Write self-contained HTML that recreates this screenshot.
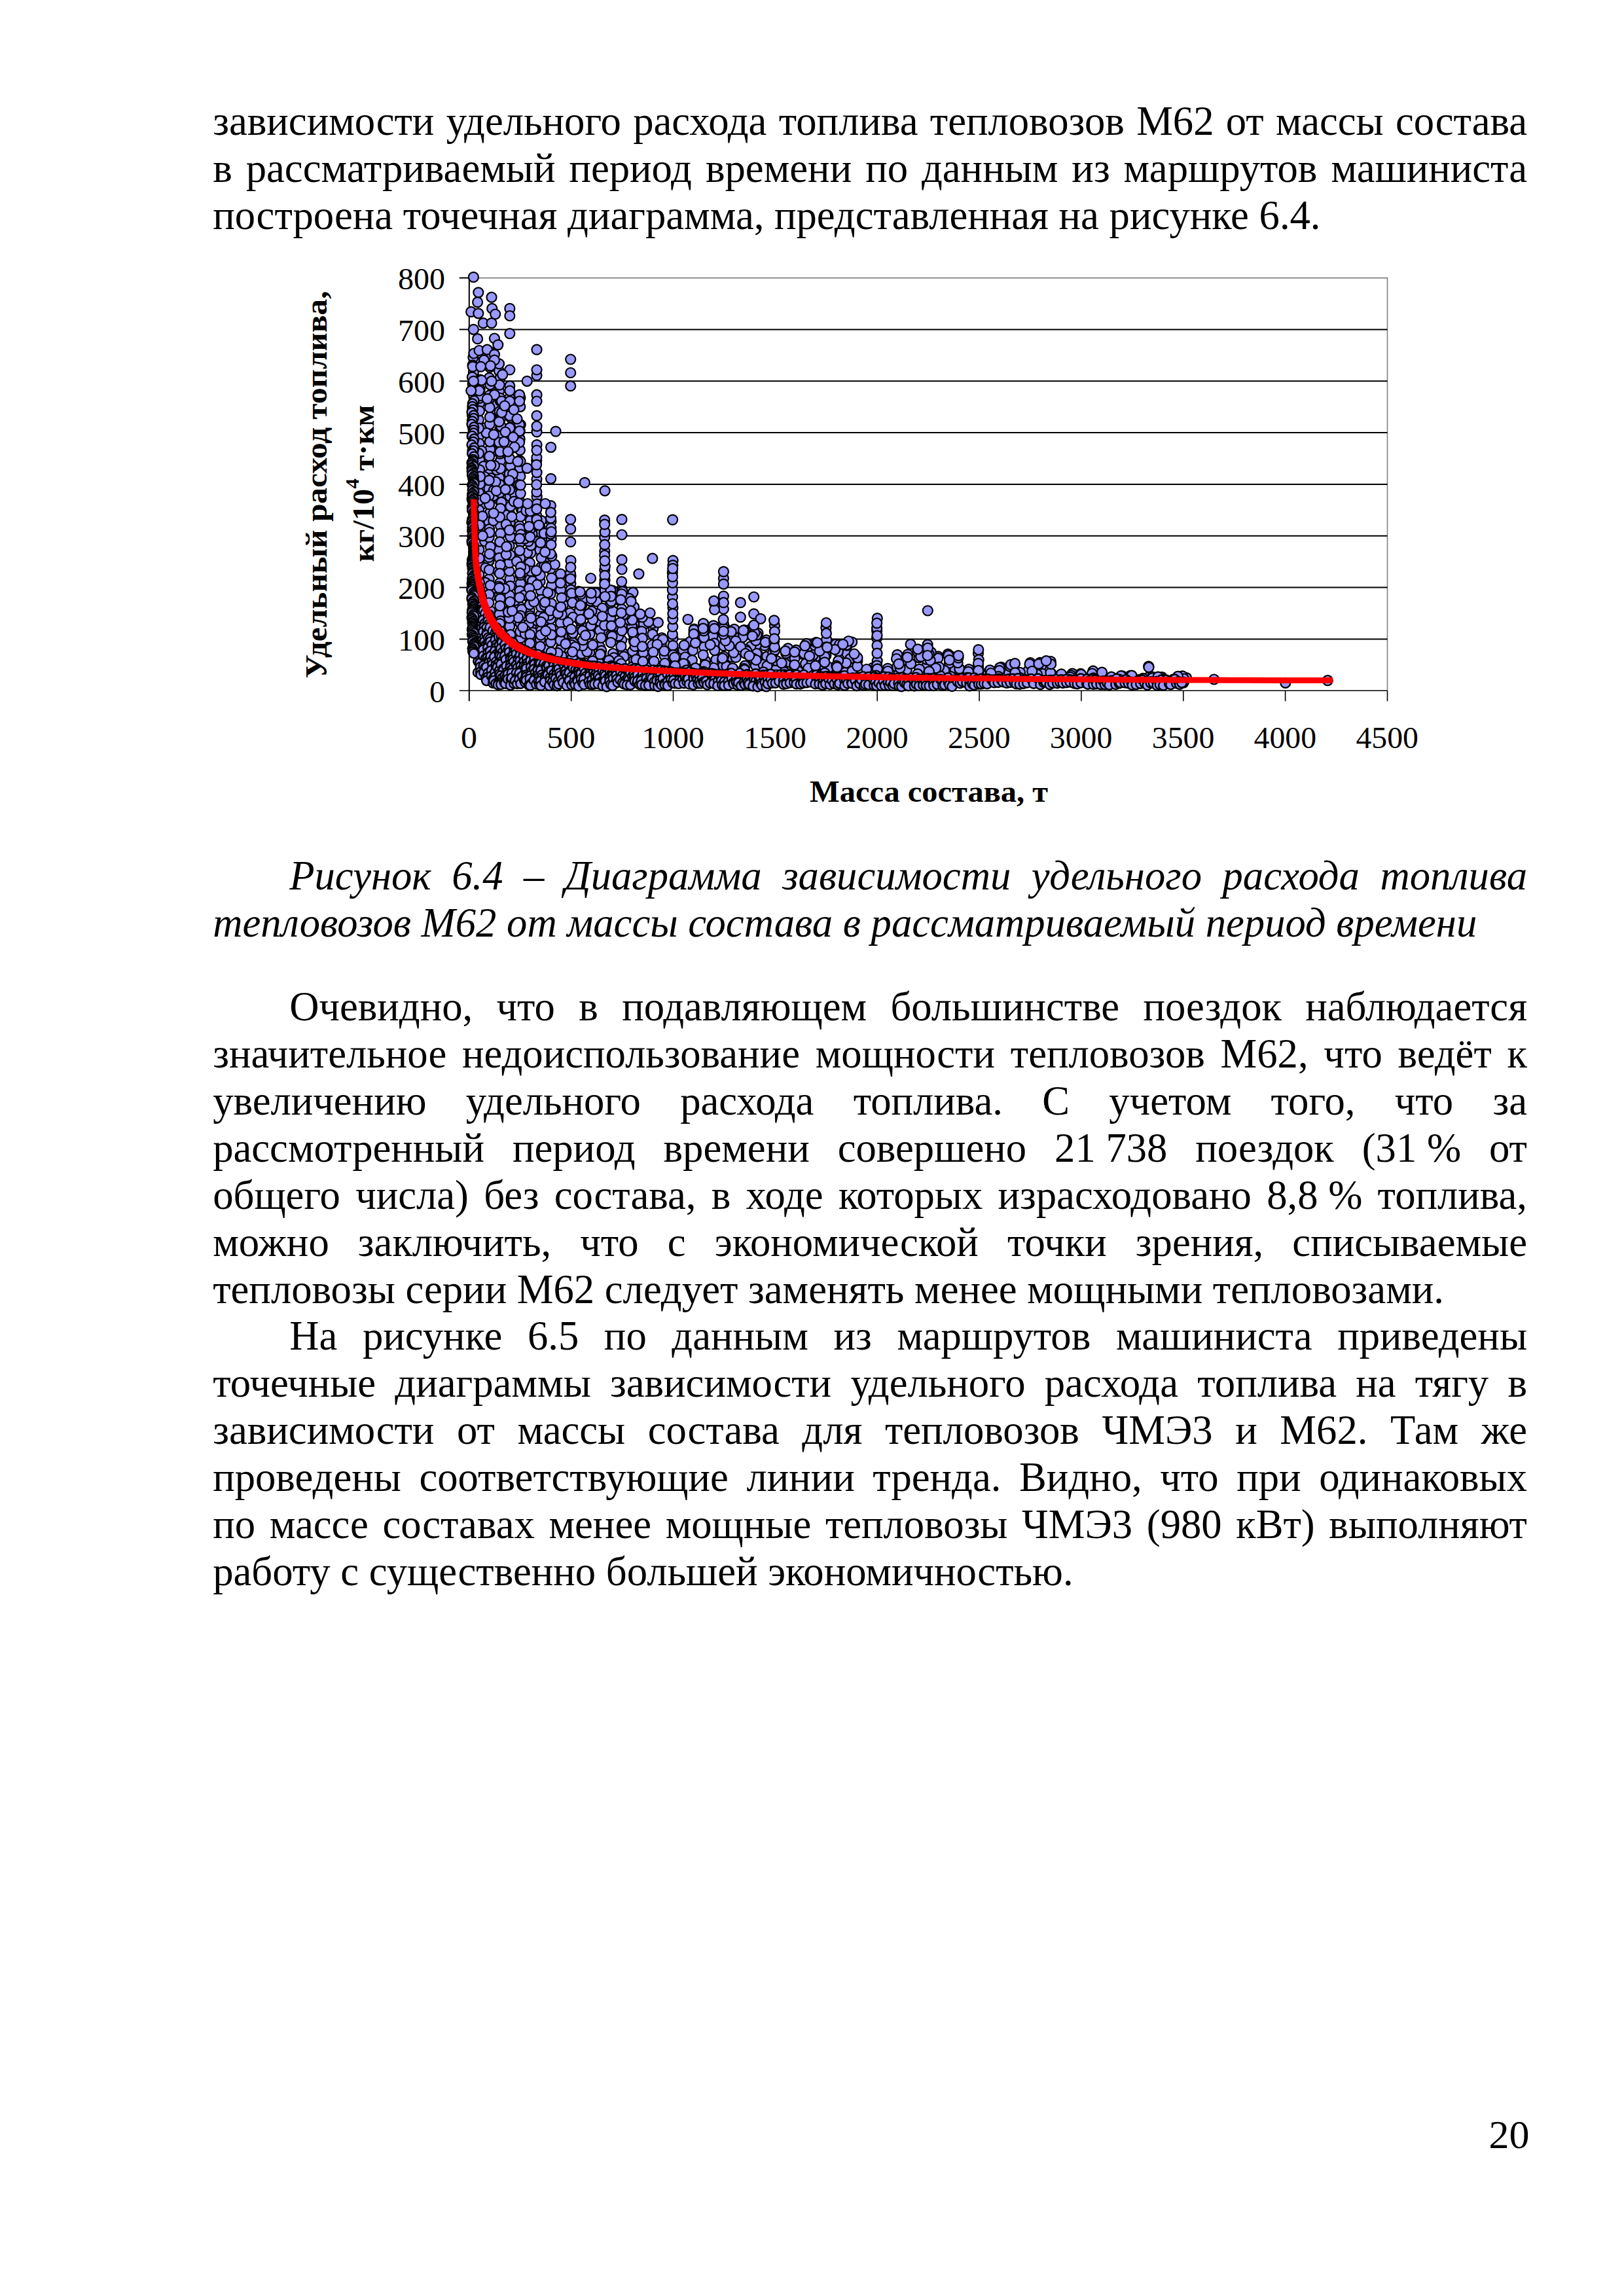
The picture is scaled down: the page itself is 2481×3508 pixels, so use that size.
<!DOCTYPE html>
<html lang="ru"><head><meta charset="utf-8"><title>Страница 20</title>
<style>
html,body{margin:0;padding:0;background:#fff}
#page{position:relative;width:2481px;height:3508px;background:#fff;overflow:hidden;color:#000;
 font-family:"Liberation Serif",serif;font-size:62.65px;line-height:72.0px}
.ln{position:absolute;white-space:pre}
.it{font-style:italic}
.nb{word-spacing:0}
#pn{position:absolute;font-size:62px;line-height:68px;white-space:pre}
</style></head><body><div id="page">
<svg width="2481" height="1300" viewBox="0 0 2481 1300" style="position:absolute;left:0;top:0">
<g fill="none">
<path d="M716.8 424.6H2119.5V1055.3" stroke="#808080" stroke-width="1.6"/>
<path d="M716.8 976.5H2119.5" stroke="#000" stroke-width="2"/>
<path d="M716.8 897.6H2119.5" stroke="#000" stroke-width="2"/>
<path d="M716.8 818.8H2119.5" stroke="#000" stroke-width="2"/>
<path d="M716.8 740.0H2119.5" stroke="#000" stroke-width="2"/>
<path d="M716.8 661.1H2119.5" stroke="#000" stroke-width="2"/>
<path d="M716.8 582.3H2119.5" stroke="#000" stroke-width="2"/>
<path d="M716.8 503.4H2119.5" stroke="#000" stroke-width="2"/>
<path d="M716.8 423.6V1071.3" stroke="#000" stroke-width="2"/>
<path d="M701.8 1055.3H2119.5" stroke="#000" stroke-width="1.6"/>
<path d="M701.8 976.5H716.8" stroke="#000" stroke-width="2"/>
<path d="M701.8 897.6H716.8" stroke="#000" stroke-width="2"/>
<path d="M701.8 818.8H716.8" stroke="#000" stroke-width="2"/>
<path d="M701.8 740.0H716.8" stroke="#000" stroke-width="2"/>
<path d="M701.8 661.1H716.8" stroke="#000" stroke-width="2"/>
<path d="M701.8 582.3H716.8" stroke="#000" stroke-width="2"/>
<path d="M701.8 503.4H716.8" stroke="#000" stroke-width="2"/>
<path d="M701.8 424.6H716.8" stroke="#000" stroke-width="2"/>
<path d="M872.7 1055.3V1071.3" stroke="#000" stroke-width="1.6"/>
<path d="M1028.5 1055.3V1071.3" stroke="#000" stroke-width="1.6"/>
<path d="M1184.4 1055.3V1071.3" stroke="#000" stroke-width="1.6"/>
<path d="M1340.2 1055.3V1071.3" stroke="#000" stroke-width="1.6"/>
<path d="M1496.1 1055.3V1071.3" stroke="#000" stroke-width="1.6"/>
<path d="M1651.9 1055.3V1071.3" stroke="#000" stroke-width="1.6"/>
<path d="M1807.8 1055.3V1071.3" stroke="#000" stroke-width="1.6"/>
<path d="M1963.6 1055.3V1071.3" stroke="#000" stroke-width="1.6"/>
<path d="M2119.5 1055.3V1071.3" stroke="#000" stroke-width="1.6"/>
</g>
<g fill="#9999ff" stroke="#000" stroke-width="2.2">
<circle cx="968.2" cy="1008.8" r="7.5"/><circle cx="1650.9" cy="1036.6" r="7.5"/><circle cx="748.7" cy="686.5" r="7.5"/><circle cx="918.6" cy="1015.3" r="7.5"/><circle cx="1166.6" cy="1006.4" r="7.5"/><circle cx="871.9" cy="891.5" r="7.5"/><circle cx="979.8" cy="1023.0" r="7.5"/><circle cx="1105.4" cy="930.5" r="7.5"/><circle cx="1199.9" cy="1012.6" r="7.5"/><circle cx="731.9" cy="551.3" r="7.5"/><circle cx="1293.9" cy="998.8" r="7.5"/><circle cx="1117.9" cy="1003.9" r="7.5"/><circle cx="824.7" cy="840.5" r="7.5"/><circle cx="969.1" cy="954.2" r="7.5"/><circle cx="748.9" cy="608.8" r="7.5"/><circle cx="1682.9" cy="1032.4" r="7.5"/><circle cx="1168.2" cy="1023.2" r="7.5"/><circle cx="950.0" cy="870.0" r="7.5"/><circle cx="1812.6" cy="1035.7" r="7.5"/><circle cx="723.4" cy="746.0" r="7.5"/><circle cx="833.6" cy="952.3" r="7.5"/><circle cx="783.5" cy="947.1" r="7.5"/><circle cx="828.5" cy="911.8" r="7.5"/><circle cx="871.7" cy="828.0" r="7.5"/><circle cx="1121.7" cy="1024.6" r="7.5"/><circle cx="862.1" cy="1009.9" r="7.5"/><circle cx="1739.4" cy="1038.6" r="7.5"/><circle cx="1638.2" cy="1029.2" r="7.5"/><circle cx="723.9" cy="701.3" r="7.5"/><circle cx="1465.9" cy="1032.2" r="7.5"/><circle cx="1541.5" cy="1027.7" r="7.5"/><circle cx="1762.8" cy="1037.0" r="7.5"/><circle cx="732.7" cy="615.7" r="7.5"/><circle cx="997.9" cy="960.3" r="7.5"/><circle cx="1452.0" cy="1022.8" r="7.5"/><circle cx="1173.3" cy="1037.7" r="7.5"/><circle cx="952.0" cy="998.2" r="7.5"/><circle cx="1168.0" cy="986.4" r="7.5"/><circle cx="762.6" cy="597.8" r="7.5"/><circle cx="1138.0" cy="1017.2" r="7.5"/><circle cx="1206.5" cy="1011.9" r="7.5"/><circle cx="1028.0" cy="975.6" r="7.5"/><circle cx="1652.1" cy="1040.0" r="7.5"/><circle cx="1636.1" cy="1031.9" r="7.5"/><circle cx="1414.0" cy="1023.4" r="7.5"/><circle cx="1089.9" cy="963.6" r="7.5"/><circle cx="857.8" cy="988.9" r="7.5"/><circle cx="746.9" cy="720.8" r="7.5"/><circle cx="763.4" cy="764.9" r="7.5"/><circle cx="749.1" cy="933.3" r="7.5"/><circle cx="1060.2" cy="965.2" r="7.5"/><circle cx="780.0" cy="686.2" r="7.5"/><circle cx="737.4" cy="769.6" r="7.5"/><circle cx="1263.9" cy="989.4" r="7.5"/><circle cx="901.0" cy="991.7" r="7.5"/><circle cx="840.7" cy="858.2" r="7.5"/><circle cx="1249.0" cy="1013.6" r="7.5"/><circle cx="1309.9" cy="1009.4" r="7.5"/><circle cx="1100.1" cy="976.4" r="7.5"/><circle cx="919.6" cy="905.0" r="7.5"/><circle cx="1106.1" cy="961.6" r="7.5"/><circle cx="1448.2" cy="999.4" r="7.5"/><circle cx="819.7" cy="704.2" r="7.5"/><circle cx="793.6" cy="803.5" r="7.5"/><circle cx="923.8" cy="842.3" r="7.5"/><circle cx="779.4" cy="653.0" r="7.5"/><circle cx="794.4" cy="808.0" r="7.5"/><circle cx="872.1" cy="1018.1" r="7.5"/><circle cx="964.8" cy="908.8" r="7.5"/><circle cx="763.7" cy="890.6" r="7.5"/><circle cx="1108.0" cy="1023.0" r="7.5"/><circle cx="841.0" cy="869.4" r="7.5"/><circle cx="1449.2" cy="1036.7" r="7.5"/><circle cx="1217.1" cy="1030.3" r="7.5"/><circle cx="967.0" cy="905.2" r="7.5"/><circle cx="763.0" cy="938.5" r="7.5"/><circle cx="1519.7" cy="1034.4" r="7.5"/><circle cx="940.8" cy="956.7" r="7.5"/><circle cx="865.4" cy="968.0" r="7.5"/><circle cx="751.5" cy="630.1" r="7.5"/><circle cx="871.7" cy="549.0" r="7.5"/><circle cx="841.6" cy="731.3" r="7.5"/><circle cx="793.8" cy="926.5" r="7.5"/><circle cx="809.2" cy="932.4" r="7.5"/><circle cx="780.1" cy="711.8" r="7.5"/><circle cx="747.6" cy="604.1" r="7.5"/><circle cx="1093.8" cy="1007.8" r="7.5"/><circle cx="834.5" cy="818.5" r="7.5"/><circle cx="1452.0" cy="1002.0" r="7.5"/><circle cx="738.8" cy="654.2" r="7.5"/><circle cx="733.5" cy="539.8" r="7.5"/><circle cx="1008.3" cy="1025.2" r="7.5"/><circle cx="1795.2" cy="1039.1" r="7.5"/><circle cx="811.4" cy="957.2" r="7.5"/><circle cx="1027.5" cy="993.7" r="7.5"/><circle cx="887.9" cy="984.5" r="7.5"/><circle cx="809.4" cy="860.0" r="7.5"/><circle cx="747.0" cy="857.3" r="7.5"/><circle cx="819.9" cy="699.1" r="7.5"/><circle cx="936.4" cy="998.5" r="7.5"/><circle cx="1027.3" cy="1005.3" r="7.5"/><circle cx="764.9" cy="838.7" r="7.5"/><circle cx="767.9" cy="851.0" r="7.5"/><circle cx="949.7" cy="930.4" r="7.5"/><circle cx="762.4" cy="840.3" r="7.5"/><circle cx="923.7" cy="848.5" r="7.5"/><circle cx="1106.5" cy="1029.4" r="7.5"/><circle cx="841.5" cy="899.3" r="7.5"/><circle cx="1155.4" cy="985.7" r="7.5"/><circle cx="775.0" cy="732.8" r="7.5"/><circle cx="879.9" cy="1019.5" r="7.5"/><circle cx="748.2" cy="561.2" r="7.5"/><circle cx="1270.6" cy="983.9" r="7.5"/><circle cx="1062.8" cy="976.1" r="7.5"/><circle cx="1495.4" cy="1041.8" r="7.5"/><circle cx="926.0" cy="933.5" r="7.5"/><circle cx="847.6" cy="862.5" r="7.5"/><circle cx="1183.4" cy="955.7" r="7.5"/><circle cx="1092.2" cy="986.7" r="7.5"/><circle cx="747.4" cy="577.3" r="7.5"/><circle cx="1588.8" cy="1012.3" r="7.5"/><circle cx="749.9" cy="730.6" r="7.5"/><circle cx="921.5" cy="911.3" r="7.5"/><circle cx="826.4" cy="1001.9" r="7.5"/><circle cx="1203.8" cy="990.6" r="7.5"/><circle cx="856.5" cy="901.3" r="7.5"/><circle cx="1496.7" cy="1036.2" r="7.5"/><circle cx="794.9" cy="727.6" r="7.5"/><circle cx="731.3" cy="813.8" r="7.5"/><circle cx="1417.1" cy="984.8" r="7.5"/><circle cx="826.8" cy="866.2" r="7.5"/><circle cx="854.9" cy="972.2" r="7.5"/><circle cx="810.1" cy="895.5" r="7.5"/><circle cx="778.2" cy="724.1" r="7.5"/><circle cx="840.7" cy="959.5" r="7.5"/><circle cx="870.2" cy="914.6" r="7.5"/><circle cx="763.9" cy="655.9" r="7.5"/><circle cx="871.5" cy="912.5" r="7.5"/><circle cx="1244.4" cy="997.4" r="7.5"/><circle cx="1619.2" cy="1031.9" r="7.5"/><circle cx="1105.4" cy="910.8" r="7.5"/><circle cx="898.4" cy="938.6" r="7.5"/><circle cx="1127.4" cy="988.1" r="7.5"/><circle cx="937.8" cy="1004.8" r="7.5"/><circle cx="1209.8" cy="1003.6" r="7.5"/><circle cx="1262.6" cy="982.0" r="7.5"/><circle cx="1261.9" cy="1001.6" r="7.5"/><circle cx="762.9" cy="729.8" r="7.5"/><circle cx="1370.8" cy="1000.3" r="7.5"/><circle cx="828.8" cy="994.1" r="7.5"/><circle cx="732.7" cy="702.8" r="7.5"/><circle cx="890.9" cy="961.8" r="7.5"/><circle cx="1590.7" cy="1017.5" r="7.5"/><circle cx="731.4" cy="666.4" r="7.5"/><circle cx="1074.0" cy="978.2" r="7.5"/><circle cx="809.8" cy="885.0" r="7.5"/><circle cx="836.1" cy="850.4" r="7.5"/><circle cx="824.8" cy="804.3" r="7.5"/><circle cx="850.8" cy="1008.7" r="7.5"/><circle cx="1230.6" cy="1013.9" r="7.5"/><circle cx="1182.6" cy="995.2" r="7.5"/><circle cx="888.4" cy="998.7" r="7.5"/><circle cx="826.4" cy="813.7" r="7.5"/><circle cx="1225.6" cy="999.1" r="7.5"/><circle cx="723.4" cy="569.0" r="7.5"/><circle cx="1340.2" cy="1009.8" r="7.5"/><circle cx="1183.1" cy="994.2" r="7.5"/><circle cx="1011.0" cy="974.5" r="7.5"/><circle cx="733.6" cy="580.0" r="7.5"/><circle cx="820.0" cy="573.6" r="7.5"/><circle cx="764.6" cy="703.9" r="7.5"/><circle cx="810.9" cy="844.6" r="7.5"/><circle cx="842.9" cy="849.6" r="7.5"/><circle cx="779.0" cy="884.9" r="7.5"/><circle cx="902.0" cy="918.3" r="7.5"/><circle cx="762.7" cy="615.7" r="7.5"/><circle cx="794.7" cy="847.7" r="7.5"/><circle cx="746.9" cy="661.0" r="7.5"/><circle cx="731.9" cy="839.9" r="7.5"/><circle cx="758.8" cy="718.0" r="7.5"/><circle cx="731.6" cy="779.3" r="7.5"/><circle cx="732.4" cy="608.4" r="7.5"/><circle cx="821.3" cy="827.3" r="7.5"/><circle cx="759.4" cy="618.5" r="7.5"/><circle cx="764.5" cy="803.3" r="7.5"/><circle cx="792.5" cy="994.2" r="7.5"/><circle cx="820.2" cy="758.9" r="7.5"/><circle cx="722.2" cy="652.4" r="7.5"/><circle cx="992.9" cy="1016.2" r="7.5"/><circle cx="1105.4" cy="883.7" r="7.5"/><circle cx="820.1" cy="679.6" r="7.5"/><circle cx="1162.7" cy="1033.2" r="7.5"/><circle cx="871.7" cy="589.7" r="7.5"/><circle cx="841.8" cy="959.9" r="7.5"/><circle cx="1333.3" cy="1020.4" r="7.5"/><circle cx="1017.6" cy="1006.4" r="7.5"/><circle cx="874.0" cy="970.2" r="7.5"/><circle cx="1027.5" cy="912.1" r="7.5"/><circle cx="1696.9" cy="1038.3" r="7.5"/><circle cx="1261.9" cy="959.2" r="7.5"/><circle cx="1232.3" cy="1035.2" r="7.5"/><circle cx="1459.0" cy="1022.8" r="7.5"/><circle cx="884.6" cy="919.2" r="7.5"/><circle cx="855.9" cy="992.8" r="7.5"/><circle cx="731.5" cy="752.6" r="7.5"/><circle cx="1452.7" cy="1033.7" r="7.5"/><circle cx="1265.4" cy="1022.7" r="7.5"/><circle cx="1294.3" cy="986.2" r="7.5"/><circle cx="1027.3" cy="901.3" r="7.5"/><circle cx="901.1" cy="969.0" r="7.5"/><circle cx="887.2" cy="939.4" r="7.5"/><circle cx="950.0" cy="817.0" r="7.5"/><circle cx="1075.6" cy="954.2" r="7.5"/><circle cx="1386.8" cy="999.9" r="7.5"/><circle cx="779.8" cy="711.7" r="7.5"/><circle cx="1146.7" cy="961.4" r="7.5"/><circle cx="1216.3" cy="993.2" r="7.5"/><circle cx="1147.0" cy="987.6" r="7.5"/><circle cx="778.3" cy="783.5" r="7.5"/><circle cx="826.0" cy="939.2" r="7.5"/><circle cx="785.7" cy="985.9" r="7.5"/><circle cx="1402.1" cy="992.8" r="7.5"/><circle cx="794.2" cy="670.7" r="7.5"/><circle cx="721.1" cy="666.4" r="7.5"/><circle cx="1495.0" cy="1030.4" r="7.5"/><circle cx="1466.4" cy="1024.2" r="7.5"/><circle cx="723.9" cy="735.8" r="7.5"/><circle cx="1775.1" cy="1034.6" r="7.5"/><circle cx="745.5" cy="737.6" r="7.5"/><circle cx="779.3" cy="798.3" r="7.5"/><circle cx="1574.0" cy="1012.5" r="7.5"/><circle cx="996.8" cy="952.4" r="7.5"/><circle cx="841.4" cy="772.6" r="7.5"/><circle cx="1280.4" cy="995.4" r="7.5"/><circle cx="1028.0" cy="928.5" r="7.5"/><circle cx="961.2" cy="914.3" r="7.5"/><circle cx="950.0" cy="899.9" r="7.5"/><circle cx="1010.2" cy="986.1" r="7.5"/><circle cx="1754.8" cy="1034.6" r="7.5"/><circle cx="1547.5" cy="1039.4" r="7.5"/><circle cx="746.7" cy="856.9" r="7.5"/><circle cx="820.0" cy="603.2" r="7.5"/><circle cx="885.3" cy="933.1" r="7.5"/><circle cx="1158.3" cy="1000.9" r="7.5"/><circle cx="996.9" cy="969.1" r="7.5"/><circle cx="831.2" cy="825.9" r="7.5"/><circle cx="837.4" cy="992.1" r="7.5"/><circle cx="1266.4" cy="1019.7" r="7.5"/><circle cx="791.5" cy="756.0" r="7.5"/><circle cx="1106.9" cy="958.4" r="7.5"/><circle cx="856.6" cy="1012.1" r="7.5"/><circle cx="983.5" cy="954.1" r="7.5"/><circle cx="908.4" cy="956.4" r="7.5"/><circle cx="872.0" cy="880.2" r="7.5"/><circle cx="1043.6" cy="993.3" r="7.5"/><circle cx="778.1" cy="872.5" r="7.5"/><circle cx="795.0" cy="952.3" r="7.5"/><circle cx="1077.7" cy="1009.6" r="7.5"/><circle cx="747.1" cy="797.2" r="7.5"/><circle cx="764.6" cy="661.0" r="7.5"/><circle cx="921.0" cy="961.4" r="7.5"/><circle cx="810.1" cy="920.3" r="7.5"/><circle cx="737.2" cy="900.1" r="7.5"/><circle cx="1105.3" cy="953.0" r="7.5"/><circle cx="1124.1" cy="1004.4" r="7.5"/><circle cx="765.6" cy="967.1" r="7.5"/><circle cx="841.6" cy="683.3" r="7.5"/><circle cx="1156.9" cy="1010.1" r="7.5"/><circle cx="906.5" cy="908.8" r="7.5"/><circle cx="773.1" cy="786.8" r="7.5"/><circle cx="747.2" cy="884.8" r="7.5"/><circle cx="808.2" cy="953.0" r="7.5"/><circle cx="1120.7" cy="997.1" r="7.5"/><circle cx="1261.7" cy="984.5" r="7.5"/><circle cx="1726.8" cy="1032.3" r="7.5"/><circle cx="733.1" cy="864.3" r="7.5"/><circle cx="1245.2" cy="1005.2" r="7.5"/><circle cx="965.7" cy="1019.1" r="7.5"/><circle cx="1570.9" cy="1024.5" r="7.5"/><circle cx="796.9" cy="931.1" r="7.5"/><circle cx="809.2" cy="784.4" r="7.5"/><circle cx="746.9" cy="746.6" r="7.5"/><circle cx="813.4" cy="887.9" r="7.5"/><circle cx="763.1" cy="740.1" r="7.5"/><circle cx="1090.0" cy="955.9" r="7.5"/><circle cx="1089.0" cy="971.6" r="7.5"/><circle cx="1416.2" cy="1017.2" r="7.5"/><circle cx="721.8" cy="716.2" r="7.5"/><circle cx="748.7" cy="944.4" r="7.5"/><circle cx="820.0" cy="613.0" r="7.5"/><circle cx="1134.7" cy="973.6" r="7.5"/><circle cx="1121.1" cy="971.7" r="7.5"/><circle cx="825.1" cy="888.4" r="7.5"/><circle cx="1650.3" cy="1042.8" r="7.5"/><circle cx="1060.3" cy="1024.8" r="7.5"/><circle cx="1301.7" cy="981.0" r="7.5"/><circle cx="1282.2" cy="1030.6" r="7.5"/><circle cx="1298.9" cy="1006.3" r="7.5"/><circle cx="888.7" cy="924.8" r="7.5"/><circle cx="1276.1" cy="985.7" r="7.5"/><circle cx="990.5" cy="1019.0" r="7.5"/><circle cx="813.0" cy="815.6" r="7.5"/><circle cx="819.9" cy="751.6" r="7.5"/><circle cx="1124.0" cy="979.3" r="7.5"/><circle cx="980.3" cy="964.6" r="7.5"/><circle cx="795.9" cy="777.6" r="7.5"/><circle cx="951.1" cy="954.4" r="7.5"/><circle cx="1198.5" cy="1026.9" r="7.5"/><circle cx="764.3" cy="630.9" r="7.5"/><circle cx="826.3" cy="902.3" r="7.5"/><circle cx="1054.8" cy="980.1" r="7.5"/><circle cx="754.0" cy="749.5" r="7.5"/><circle cx="1255.2" cy="1015.1" r="7.5"/><circle cx="1368.9" cy="1040.9" r="7.5"/><circle cx="1450.4" cy="1013.1" r="7.5"/><circle cx="763.6" cy="901.6" r="7.5"/><circle cx="905.3" cy="1019.8" r="7.5"/><circle cx="789.4" cy="741.1" r="7.5"/><circle cx="1296.1" cy="1036.3" r="7.5"/><circle cx="1415.4" cy="1007.4" r="7.5"/><circle cx="845.7" cy="932.5" r="7.5"/><circle cx="1529.5" cy="1019.4" r="7.5"/><circle cx="1404.7" cy="1022.4" r="7.5"/><circle cx="748.3" cy="648.1" r="7.5"/><circle cx="794.4" cy="687.7" r="7.5"/><circle cx="1080.9" cy="1022.0" r="7.5"/><circle cx="1527.4" cy="1020.2" r="7.5"/><circle cx="1455.7" cy="1005.6" r="7.5"/><circle cx="949.7" cy="978.0" r="7.5"/><circle cx="1494.5" cy="998.3" r="7.5"/><circle cx="764.4" cy="716.0" r="7.5"/><circle cx="764.3" cy="613.0" r="7.5"/><circle cx="911.6" cy="919.1" r="7.5"/><circle cx="872.0" cy="856.4" r="7.5"/><circle cx="764.2" cy="914.8" r="7.5"/><circle cx="812.7" cy="998.9" r="7.5"/><circle cx="923.7" cy="871.1" r="7.5"/><circle cx="1526.8" cy="1024.6" r="7.5"/><circle cx="1291.4" cy="1027.3" r="7.5"/><circle cx="825.4" cy="977.1" r="7.5"/><circle cx="1027.4" cy="969.2" r="7.5"/><circle cx="831.3" cy="864.7" r="7.5"/><circle cx="769.0" cy="863.0" r="7.5"/><circle cx="763.7" cy="666.1" r="7.5"/><circle cx="1433.1" cy="1002.8" r="7.5"/><circle cx="794.9" cy="607.7" r="7.5"/><circle cx="1241.3" cy="986.1" r="7.5"/><circle cx="1714.6" cy="1032.9" r="7.5"/><circle cx="1387.5" cy="1011.0" r="7.5"/><circle cx="856.7" cy="951.9" r="7.5"/><circle cx="1119.7" cy="1030.6" r="7.5"/><circle cx="748.6" cy="674.2" r="7.5"/><circle cx="922.3" cy="966.9" r="7.5"/><circle cx="820.0" cy="635.2" r="7.5"/><circle cx="932.9" cy="943.2" r="7.5"/><circle cx="1103.4" cy="1009.7" r="7.5"/><circle cx="1091.2" cy="982.8" r="7.5"/><circle cx="1669.9" cy="1025.2" r="7.5"/><circle cx="1465.7" cy="1021.7" r="7.5"/><circle cx="890.8" cy="914.6" r="7.5"/><circle cx="968.2" cy="979.3" r="7.5"/><circle cx="875.1" cy="982.0" r="7.5"/><circle cx="1105.4" cy="920.7" r="7.5"/><circle cx="749.2" cy="911.3" r="7.5"/><circle cx="1027.3" cy="874.8" r="7.5"/><circle cx="813.8" cy="966.4" r="7.5"/><circle cx="966.2" cy="957.9" r="7.5"/><circle cx="795.3" cy="828.3" r="7.5"/><circle cx="887.4" cy="1014.8" r="7.5"/><circle cx="1369.5" cy="1006.5" r="7.5"/><circle cx="860.5" cy="924.1" r="7.5"/><circle cx="820.0" cy="534.2" r="7.5"/><circle cx="900.9" cy="996.7" r="7.5"/><circle cx="748.2" cy="674.8" r="7.5"/><circle cx="1301.8" cy="1025.6" r="7.5"/><circle cx="1104.7" cy="1017.0" r="7.5"/><circle cx="1462.3" cy="1008.8" r="7.5"/><circle cx="754.2" cy="757.5" r="7.5"/><circle cx="1435.7" cy="1033.0" r="7.5"/><circle cx="721.4" cy="642.8" r="7.5"/><circle cx="1015.1" cy="1001.8" r="7.5"/><circle cx="841.2" cy="945.5" r="7.5"/><circle cx="1075.6" cy="988.2" r="7.5"/><circle cx="756.2" cy="898.2" r="7.5"/><circle cx="1230.5" cy="985.9" r="7.5"/><circle cx="763.9" cy="693.1" r="7.5"/><circle cx="762.4" cy="566.8" r="7.5"/><circle cx="1028.0" cy="986.3" r="7.5"/><circle cx="1152.0" cy="1033.2" r="7.5"/><circle cx="914.1" cy="1011.2" r="7.5"/><circle cx="1512.3" cy="1023.9" r="7.5"/><circle cx="842.3" cy="922.0" r="7.5"/><circle cx="924.0" cy="886.8" r="7.5"/><circle cx="1180.1" cy="1012.5" r="7.5"/><circle cx="779.3" cy="895.4" r="7.5"/><circle cx="1262.3" cy="951.5" r="7.5"/><circle cx="968.3" cy="970.7" r="7.5"/><circle cx="741.9" cy="867.6" r="7.5"/><circle cx="805.5" cy="844.5" r="7.5"/><circle cx="764.6" cy="815.1" r="7.5"/><circle cx="1240.2" cy="1011.5" r="7.5"/><circle cx="723.7" cy="604.4" r="7.5"/><circle cx="762.4" cy="677.7" r="7.5"/><circle cx="888.5" cy="955.8" r="7.5"/><circle cx="794.8" cy="621.3" r="7.5"/><circle cx="778.1" cy="859.9" r="7.5"/><circle cx="1030.9" cy="1029.3" r="7.5"/><circle cx="856.4" cy="951.8" r="7.5"/><circle cx="1213.9" cy="1019.5" r="7.5"/><circle cx="786.7" cy="917.5" r="7.5"/><circle cx="1760.3" cy="1034.0" r="7.5"/><circle cx="721.1" cy="762.9" r="7.5"/><circle cx="1792.6" cy="1037.9" r="7.5"/><circle cx="1385.2" cy="1023.6" r="7.5"/><circle cx="1442.7" cy="1024.4" r="7.5"/><circle cx="1391.5" cy="1014.2" r="7.5"/><circle cx="787.4" cy="822.3" r="7.5"/><circle cx="1233.9" cy="995.8" r="7.5"/><circle cx="1308.9" cy="1003.9" r="7.5"/><circle cx="1403.9" cy="1004.8" r="7.5"/><circle cx="794.3" cy="714.5" r="7.5"/><circle cx="763.8" cy="608.1" r="7.5"/><circle cx="811.1" cy="833.3" r="7.5"/><circle cx="820.5" cy="948.1" r="7.5"/><circle cx="779.0" cy="758.3" r="7.5"/><circle cx="920.2" cy="929.2" r="7.5"/><circle cx="731.3" cy="641.3" r="7.5"/><circle cx="748.9" cy="782.7" r="7.5"/><circle cx="722.9" cy="546.1" r="7.5"/><circle cx="810.3" cy="795.0" r="7.5"/><circle cx="748.3" cy="708.6" r="7.5"/><circle cx="1578.5" cy="1032.2" r="7.5"/><circle cx="883.8" cy="903.7" r="7.5"/><circle cx="1028.1" cy="856.4" r="7.5"/><circle cx="1230.3" cy="1026.6" r="7.5"/><circle cx="944.8" cy="971.6" r="7.5"/><circle cx="1339.6" cy="964.0" r="7.5"/><circle cx="1309.8" cy="1017.9" r="7.5"/><circle cx="871.4" cy="875.7" r="7.5"/><circle cx="826.8" cy="795.3" r="7.5"/><circle cx="779.9" cy="773.5" r="7.5"/><circle cx="1386.3" cy="1004.2" r="7.5"/><circle cx="763.1" cy="628.8" r="7.5"/><circle cx="1005.0" cy="977.9" r="7.5"/><circle cx="779.5" cy="848.0" r="7.5"/><circle cx="1418.7" cy="993.8" r="7.5"/><circle cx="794.5" cy="767.2" r="7.5"/><circle cx="1262.7" cy="977.4" r="7.5"/><circle cx="795.7" cy="816.6" r="7.5"/><circle cx="875.2" cy="967.3" r="7.5"/><circle cx="1090.3" cy="1020.5" r="7.5"/><circle cx="1185.5" cy="1023.1" r="7.5"/><circle cx="1276.9" cy="984.1" r="7.5"/><circle cx="916.5" cy="988.5" r="7.5"/><circle cx="1292.7" cy="1012.8" r="7.5"/><circle cx="839.1" cy="940.0" r="7.5"/><circle cx="793.6" cy="703.4" r="7.5"/><circle cx="1060.4" cy="961.0" r="7.5"/><circle cx="765.4" cy="651.3" r="7.5"/><circle cx="1760.3" cy="1036.0" r="7.5"/><circle cx="1573.0" cy="1014.5" r="7.5"/><circle cx="1495.5" cy="1024.4" r="7.5"/><circle cx="766.1" cy="767.5" r="7.5"/><circle cx="721.4" cy="576.2" r="7.5"/><circle cx="1027.6" cy="794.1" r="7.5"/><circle cx="1246.8" cy="1034.5" r="7.5"/><circle cx="798.0" cy="780.3" r="7.5"/><circle cx="1027.5" cy="890.4" r="7.5"/><circle cx="793.3" cy="899.6" r="7.5"/><circle cx="779.2" cy="666.0" r="7.5"/><circle cx="820.6" cy="893.5" r="7.5"/><circle cx="1158.0" cy="967.4" r="7.5"/><circle cx="1027.5" cy="922.5" r="7.5"/><circle cx="795.2" cy="891.2" r="7.5"/><circle cx="917.0" cy="950.3" r="7.5"/><circle cx="1262.2" cy="988.5" r="7.5"/><circle cx="1075.4" cy="974.0" r="7.5"/><circle cx="856.1" cy="978.4" r="7.5"/><circle cx="856.8" cy="877.6" r="7.5"/><circle cx="723.3" cy="677.3" r="7.5"/><circle cx="1154.7" cy="978.7" r="7.5"/><circle cx="965.1" cy="956.8" r="7.5"/><circle cx="1668.4" cy="1029.0" r="7.5"/><circle cx="795.4" cy="974.8" r="7.5"/><circle cx="826.4" cy="916.2" r="7.5"/><circle cx="1270.2" cy="1038.1" r="7.5"/><circle cx="1156.0" cy="998.5" r="7.5"/><circle cx="1139.1" cy="992.4" r="7.5"/><circle cx="964.0" cy="945.4" r="7.5"/><circle cx="1558.3" cy="1027.3" r="7.5"/><circle cx="779.1" cy="982.0" r="7.5"/><circle cx="747.6" cy="808.3" r="7.5"/><circle cx="762.8" cy="852.4" r="7.5"/><circle cx="757.1" cy="736.1" r="7.5"/><circle cx="1260.0" cy="1003.3" r="7.5"/><circle cx="1681.1" cy="1042.7" r="7.5"/><circle cx="862.2" cy="937.8" r="7.5"/><circle cx="1154.3" cy="1016.9" r="7.5"/><circle cx="840.2" cy="1013.2" r="7.5"/><circle cx="870.2" cy="941.9" r="7.5"/><circle cx="873.4" cy="985.4" r="7.5"/><circle cx="747.4" cy="870.6" r="7.5"/><circle cx="741.6" cy="890.2" r="7.5"/><circle cx="1183.4" cy="964.9" r="7.5"/><circle cx="825.3" cy="987.7" r="7.5"/><circle cx="909.8" cy="906.0" r="7.5"/><circle cx="763.7" cy="925.6" r="7.5"/><circle cx="778.5" cy="677.2" r="7.5"/><circle cx="809.8" cy="809.0" r="7.5"/><circle cx="820.0" cy="732.3" r="7.5"/><circle cx="1707.6" cy="1036.3" r="7.5"/><circle cx="1357.9" cy="1037.0" r="7.5"/><circle cx="1682.9" cy="1032.2" r="7.5"/><circle cx="740.4" cy="728.5" r="7.5"/><circle cx="794.7" cy="964.9" r="7.5"/><circle cx="1419.6" cy="1039.9" r="7.5"/><circle cx="747.9" cy="537.4" r="7.5"/><circle cx="731.8" cy="878.1" r="7.5"/><circle cx="794.7" cy="852.7" r="7.5"/><circle cx="1200.7" cy="998.2" r="7.5"/><circle cx="809.3" cy="923.7" r="7.5"/><circle cx="1214.1" cy="1005.9" r="7.5"/><circle cx="732.8" cy="826.7" r="7.5"/><circle cx="1073.2" cy="1020.8" r="7.5"/><circle cx="793.9" cy="841.3" r="7.5"/><circle cx="740.6" cy="827.0" r="7.5"/><circle cx="1495.2" cy="1008.0" r="7.5"/><circle cx="1058.5" cy="993.7" r="7.5"/><circle cx="826.5" cy="927.5" r="7.5"/><circle cx="841.9" cy="796.7" r="7.5"/><circle cx="1171.5" cy="1003.1" r="7.5"/><circle cx="753.7" cy="795.5" r="7.5"/><circle cx="1370.1" cy="1019.3" r="7.5"/><circle cx="1091.7" cy="993.6" r="7.5"/><circle cx="889.9" cy="963.7" r="7.5"/><circle cx="1651.0" cy="1029.3" r="7.5"/><circle cx="871.7" cy="793.6" r="7.5"/><circle cx="1557.5" cy="1035.2" r="7.5"/><circle cx="1105.6" cy="986.6" r="7.5"/><circle cx="761.9" cy="896.0" r="7.5"/><circle cx="749.1" cy="894.3" r="7.5"/><circle cx="764.7" cy="948.8" r="7.5"/><circle cx="820.0" cy="659.9" r="7.5"/><circle cx="896.8" cy="995.8" r="7.5"/><circle cx="732.3" cy="852.9" r="7.5"/><circle cx="755.3" cy="711.4" r="7.5"/><circle cx="1077.4" cy="1015.8" r="7.5"/><circle cx="1280.3" cy="1030.7" r="7.5"/><circle cx="935.9" cy="902.3" r="7.5"/><circle cx="794.9" cy="940.6" r="7.5"/><circle cx="1592.5" cy="1029.3" r="7.5"/><circle cx="807.4" cy="827.1" r="7.5"/><circle cx="1027.9" cy="863.6" r="7.5"/><circle cx="994.4" cy="1018.5" r="7.5"/><circle cx="871.3" cy="1001.1" r="7.5"/><circle cx="794.1" cy="902.9" r="7.5"/><circle cx="1433.0" cy="1005.6" r="7.5"/><circle cx="1525.5" cy="1033.6" r="7.5"/><circle cx="762.6" cy="676.0" r="7.5"/><circle cx="791.5" cy="943.7" r="7.5"/><circle cx="1506.5" cy="1037.9" r="7.5"/><circle cx="1422.3" cy="996.4" r="7.5"/><circle cx="1110.0" cy="1018.2" r="7.5"/><circle cx="1806.4" cy="1032.9" r="7.5"/><circle cx="930.4" cy="1008.9" r="7.5"/><circle cx="1339.6" cy="1016.9" r="7.5"/><circle cx="1185.9" cy="1031.0" r="7.5"/><circle cx="890.0" cy="986.7" r="7.5"/><circle cx="872.1" cy="901.1" r="7.5"/><circle cx="1728.8" cy="1038.2" r="7.5"/><circle cx="948.9" cy="987.4" r="7.5"/><circle cx="1606.3" cy="1029.3" r="7.5"/><circle cx="820.0" cy="651.2" r="7.5"/><circle cx="937.1" cy="934.6" r="7.5"/><circle cx="1327.0" cy="1024.3" r="7.5"/><circle cx="1228.4" cy="998.4" r="7.5"/><circle cx="1808.6" cy="1037.0" r="7.5"/><circle cx="801.1" cy="909.4" r="7.5"/><circle cx="1045.2" cy="985.8" r="7.5"/><circle cx="984.4" cy="1002.4" r="7.5"/><circle cx="1251.2" cy="1032.9" r="7.5"/><circle cx="856.4" cy="876.9" r="7.5"/><circle cx="902.7" cy="955.7" r="7.5"/><circle cx="794.7" cy="989.9" r="7.5"/><circle cx="795.1" cy="705.0" r="7.5"/><circle cx="778.7" cy="700.7" r="7.5"/><circle cx="1170.7" cy="977.9" r="7.5"/><circle cx="995.5" cy="993.1" r="7.5"/><circle cx="1105.7" cy="1003.0" r="7.5"/><circle cx="764.3" cy="640.5" r="7.5"/><circle cx="747.1" cy="821.1" r="7.5"/><circle cx="748.8" cy="587.8" r="7.5"/><circle cx="1653.3" cy="1034.2" r="7.5"/><circle cx="743.0" cy="661.3" r="7.5"/><circle cx="826.9" cy="963.2" r="7.5"/><circle cx="826.9" cy="852.2" r="7.5"/><circle cx="890.6" cy="977.9" r="7.5"/><circle cx="1014.7" cy="994.7" r="7.5"/><circle cx="1245.1" cy="1025.6" r="7.5"/><circle cx="1576.5" cy="1041.1" r="7.5"/><circle cx="923.7" cy="820.9" r="7.5"/><circle cx="731.9" cy="764.4" r="7.5"/><circle cx="791.0" cy="705.1" r="7.5"/><circle cx="950.0" cy="793.6" r="7.5"/><circle cx="1808.0" cy="1043.1" r="7.5"/><circle cx="810.8" cy="872.7" r="7.5"/><circle cx="871.8" cy="866.7" r="7.5"/><circle cx="1141.0" cy="995.1" r="7.5"/><circle cx="1542.8" cy="1018.2" r="7.5"/><circle cx="1012.6" cy="977.0" r="7.5"/><circle cx="1340.9" cy="1022.0" r="7.5"/><circle cx="808.2" cy="804.4" r="7.5"/><circle cx="764.0" cy="577.9" r="7.5"/><circle cx="749.2" cy="835.3" r="7.5"/><circle cx="1401.7" cy="995.5" r="7.5"/><circle cx="1046.8" cy="1004.0" r="7.5"/><circle cx="1356.2" cy="1021.3" r="7.5"/><circle cx="1776.8" cy="1037.5" r="7.5"/><circle cx="841.4" cy="791.8" r="7.5"/><circle cx="761.2" cy="873.4" r="7.5"/><circle cx="982.6" cy="997.3" r="7.5"/><circle cx="1338.2" cy="1034.1" r="7.5"/><circle cx="802.4" cy="962.5" r="7.5"/><circle cx="1067.1" cy="1033.3" r="7.5"/><circle cx="1234.9" cy="1021.0" r="7.5"/><circle cx="1584.5" cy="1030.3" r="7.5"/><circle cx="723.1" cy="695.3" r="7.5"/><circle cx="732.5" cy="627.9" r="7.5"/><circle cx="1027.8" cy="957.5" r="7.5"/><circle cx="1085.1" cy="985.2" r="7.5"/><circle cx="1030.9" cy="1006.3" r="7.5"/><circle cx="953.2" cy="1003.1" r="7.5"/><circle cx="1280.6" cy="1009.6" r="7.5"/><circle cx="732.2" cy="677.5" r="7.5"/><circle cx="949.9" cy="903.5" r="7.5"/><circle cx="966.5" cy="995.0" r="7.5"/><circle cx="1263.8" cy="1035.7" r="7.5"/><circle cx="1372.8" cy="1030.3" r="7.5"/><circle cx="950.1" cy="963.6" r="7.5"/><circle cx="801.6" cy="823.1" r="7.5"/><circle cx="1527.6" cy="1039.4" r="7.5"/><circle cx="1436.0" cy="1032.2" r="7.5"/><circle cx="820.0" cy="688.0" r="7.5"/><circle cx="1105.4" cy="960.1" r="7.5"/><circle cx="1339.6" cy="975.1" r="7.5"/><circle cx="918.8" cy="994.2" r="7.5"/><circle cx="1182.6" cy="947.8" r="7.5"/><circle cx="722.2" cy="586.9" r="7.5"/><circle cx="793.8" cy="912.9" r="7.5"/><circle cx="795.3" cy="789.3" r="7.5"/><circle cx="957.1" cy="1026.2" r="7.5"/><circle cx="794.9" cy="878.6" r="7.5"/><circle cx="778.7" cy="956.9" r="7.5"/><circle cx="916.4" cy="963.3" r="7.5"/><circle cx="794.3" cy="658.9" r="7.5"/><circle cx="832.0" cy="924.8" r="7.5"/><circle cx="1463.2" cy="1012.7" r="7.5"/><circle cx="819.9" cy="788.3" r="7.5"/><circle cx="858.1" cy="1002.6" r="7.5"/><circle cx="1121.7" cy="961.4" r="7.5"/><circle cx="923.6" cy="955.4" r="7.5"/><circle cx="789.5" cy="858.0" r="7.5"/><circle cx="1137.0" cy="962.6" r="7.5"/><circle cx="1621.4" cy="1029.9" r="7.5"/><circle cx="802.2" cy="968.1" r="7.5"/><circle cx="778.1" cy="944.4" r="7.5"/><circle cx="990.7" cy="950.2" r="7.5"/><circle cx="1074.9" cy="1026.2" r="7.5"/><circle cx="936.2" cy="933.9" r="7.5"/><circle cx="874.4" cy="1005.2" r="7.5"/><circle cx="1434.6" cy="1019.1" r="7.5"/><circle cx="803.9" cy="780.4" r="7.5"/><circle cx="748.4" cy="637.2" r="7.5"/><circle cx="878.5" cy="988.5" r="7.5"/><circle cx="732.7" cy="790.9" r="7.5"/><circle cx="737.0" cy="788.7" r="7.5"/><circle cx="1088.8" cy="1029.8" r="7.5"/><circle cx="723.8" cy="540.0" r="7.5"/><circle cx="735.7" cy="688.9" r="7.5"/><circle cx="1340.3" cy="1022.1" r="7.5"/><circle cx="870.8" cy="936.5" r="7.5"/><circle cx="747.9" cy="813.5" r="7.5"/><circle cx="841.2" cy="846.0" r="7.5"/><circle cx="1136.6" cy="1021.6" r="7.5"/><circle cx="1166.0" cy="1015.4" r="7.5"/><circle cx="924.2" cy="902.0" r="7.5"/><circle cx="747.1" cy="757.8" r="7.5"/><circle cx="721.6" cy="627.1" r="7.5"/><circle cx="764.0" cy="690.2" r="7.5"/><circle cx="778.6" cy="909.9" r="7.5"/><circle cx="949.7" cy="888.6" r="7.5"/><circle cx="961.2" cy="947.3" r="7.5"/><circle cx="1060.1" cy="962.4" r="7.5"/><circle cx="786.6" cy="755.5" r="7.5"/><circle cx="830.5" cy="943.3" r="7.5"/><circle cx="932.9" cy="901.7" r="7.5"/><circle cx="894.4" cy="970.7" r="7.5"/><circle cx="1508.7" cy="1039.1" r="7.5"/><circle cx="1340.3" cy="944.6" r="7.5"/><circle cx="1282.6" cy="984.6" r="7.5"/><circle cx="842.1" cy="823.2" r="7.5"/><circle cx="809.9" cy="820.3" r="7.5"/><circle cx="783.0" cy="733.8" r="7.5"/><circle cx="820.1" cy="721.9" r="7.5"/><circle cx="764.3" cy="863.2" r="7.5"/><circle cx="1186.6" cy="1009.7" r="7.5"/><circle cx="1059.8" cy="968.7" r="7.5"/><circle cx="731.3" cy="654.2" r="7.5"/><circle cx="801.9" cy="869.2" r="7.5"/><circle cx="1799.4" cy="1033.4" r="7.5"/><circle cx="1219.3" cy="1025.4" r="7.5"/><circle cx="733.1" cy="604.7" r="7.5"/><circle cx="1712.6" cy="1032.7" r="7.5"/><circle cx="1131.5" cy="988.2" r="7.5"/><circle cx="778.1" cy="833.7" r="7.5"/><circle cx="1339.6" cy="959.9" r="7.5"/><circle cx="825.8" cy="829.2" r="7.5"/><circle cx="1494.5" cy="1018.7" r="7.5"/><circle cx="1448.8" cy="1001.7" r="7.5"/><circle cx="842.6" cy="894.6" r="7.5"/><circle cx="1651.6" cy="1030.5" r="7.5"/><circle cx="911.3" cy="937.6" r="7.5"/><circle cx="832.5" cy="920.1" r="7.5"/><circle cx="858.3" cy="939.0" r="7.5"/><circle cx="923.7" cy="794.6" r="7.5"/><circle cx="763.6" cy="827.8" r="7.5"/><circle cx="1670.4" cy="1035.9" r="7.5"/><circle cx="810.2" cy="781.0" r="7.5"/><circle cx="763.6" cy="952.8" r="7.5"/><circle cx="1172.0" cy="1017.4" r="7.5"/><circle cx="841.3" cy="981.1" r="7.5"/><circle cx="874.6" cy="996.0" r="7.5"/><circle cx="1009.2" cy="1019.0" r="7.5"/><circle cx="1057.4" cy="1008.6" r="7.5"/><circle cx="748.4" cy="946.9" r="7.5"/><circle cx="771.0" cy="899.4" r="7.5"/><circle cx="1046.6" cy="1015.1" r="7.5"/><circle cx="1027.8" cy="945.8" r="7.5"/><circle cx="785.2" cy="766.2" r="7.5"/><circle cx="778.6" cy="748.2" r="7.5"/><circle cx="1339.6" cy="952.1" r="7.5"/><circle cx="764.5" cy="776.9" r="7.5"/><circle cx="1242.3" cy="1000.7" r="7.5"/><circle cx="1710.2" cy="1038.0" r="7.5"/><circle cx="870.3" cy="911.4" r="7.5"/><circle cx="1480.4" cy="1038.0" r="7.5"/><circle cx="1494.5" cy="1013.6" r="7.5"/><circle cx="781.8" cy="789.3" r="7.5"/><circle cx="820.0" cy="565.0" r="7.5"/><circle cx="747.7" cy="697.2" r="7.5"/><circle cx="1545.4" cy="1041.0" r="7.5"/><circle cx="779.6" cy="820.0" r="7.5"/><circle cx="747.1" cy="908.5" r="7.5"/><circle cx="1340.0" cy="986.3" r="7.5"/><circle cx="1137.5" cy="1023.5" r="7.5"/><circle cx="841.9" cy="832.3" r="7.5"/><circle cx="1231.9" cy="983.4" r="7.5"/><circle cx="815.6" cy="919.4" r="7.5"/><circle cx="723.9" cy="724.2" r="7.5"/><circle cx="808.7" cy="899.1" r="7.5"/><circle cx="1513.8" cy="1028.5" r="7.5"/><circle cx="933.0" cy="970.6" r="7.5"/><circle cx="1138.9" cy="998.5" r="7.5"/><circle cx="1421.2" cy="1009.0" r="7.5"/><circle cx="763.8" cy="752.5" r="7.5"/><circle cx="1074.5" cy="952.6" r="7.5"/><circle cx="733.2" cy="739.4" r="7.5"/><circle cx="747.0" cy="851.4" r="7.5"/><circle cx="763.5" cy="790.1" r="7.5"/><circle cx="875.3" cy="943.0" r="7.5"/><circle cx="1169.3" cy="981.3" r="7.5"/><circle cx="826.2" cy="970.1" r="7.5"/><circle cx="1635.1" cy="1034.6" r="7.5"/><circle cx="819.7" cy="740.5" r="7.5"/><circle cx="820.5" cy="769.8" r="7.5"/><circle cx="1074.2" cy="1000.6" r="7.5"/><circle cx="747.8" cy="609.0" r="7.5"/><circle cx="1406.7" cy="1003.2" r="7.5"/><circle cx="1075.0" cy="963.9" r="7.5"/><circle cx="887.4" cy="907.9" r="7.5"/><circle cx="1156.0" cy="970.1" r="7.5"/><circle cx="819.6" cy="710.1" r="7.5"/><circle cx="1236.6" cy="1002.3" r="7.5"/><circle cx="886.3" cy="948.6" r="7.5"/><circle cx="795.5" cy="866.2" r="7.5"/><circle cx="935.2" cy="972.2" r="7.5"/><circle cx="933.1" cy="981.6" r="7.5"/><circle cx="1105.4" cy="873.4" r="7.5"/><circle cx="852.0" cy="997.6" r="7.5"/><circle cx="840.4" cy="933.0" r="7.5"/><circle cx="1180.7" cy="997.3" r="7.5"/><circle cx="966.0" cy="947.2" r="7.5"/><circle cx="758.3" cy="749.9" r="7.5"/><circle cx="1182.6" cy="979.9" r="7.5"/><circle cx="968.6" cy="927.4" r="7.5"/><circle cx="792.0" cy="768.5" r="7.5"/><circle cx="1293.5" cy="985.5" r="7.5"/><circle cx="1150.2" cy="1005.7" r="7.5"/><circle cx="1605.3" cy="1010.7" r="7.5"/><circle cx="935.5" cy="911.5" r="7.5"/><circle cx="1327.0" cy="1039.4" r="7.5"/><circle cx="955.6" cy="938.9" r="7.5"/><circle cx="1010.3" cy="1029.1" r="7.5"/><circle cx="996.6" cy="985.5" r="7.5"/><circle cx="944.5" cy="916.3" r="7.5"/><circle cx="895.6" cy="1013.5" r="7.5"/><circle cx="722.1" cy="622.1" r="7.5"/><circle cx="1419.4" cy="999.7" r="7.5"/><circle cx="858.0" cy="913.4" r="7.5"/><circle cx="748.1" cy="622.7" r="7.5"/><circle cx="1277.8" cy="1017.2" r="7.5"/><circle cx="1114.2" cy="986.7" r="7.5"/><circle cx="1027.5" cy="881.2" r="7.5"/><circle cx="1004.0" cy="984.6" r="7.5"/><circle cx="924.3" cy="865.3" r="7.5"/><circle cx="905.5" cy="985.5" r="7.5"/><circle cx="867.8" cy="951.0" r="7.5"/><circle cx="1044.2" cy="1013.8" r="7.5"/><circle cx="903.4" cy="914.9" r="7.5"/><circle cx="951.1" cy="903.8" r="7.5"/><circle cx="1340.0" cy="971.1" r="7.5"/><circle cx="1135.6" cy="963.2" r="7.5"/><circle cx="1213.9" cy="1015.8" r="7.5"/><circle cx="779.8" cy="969.7" r="7.5"/><circle cx="1062.4" cy="982.3" r="7.5"/><circle cx="1108.3" cy="979.0" r="7.5"/><circle cx="762.5" cy="644.3" r="7.5"/><circle cx="832.6" cy="843.4" r="7.5"/><circle cx="864.0" cy="983.7" r="7.5"/><circle cx="871.5" cy="884.3" r="7.5"/><circle cx="981.4" cy="943.0" r="7.5"/><circle cx="924.1" cy="1025.8" r="7.5"/><circle cx="841.1" cy="907.3" r="7.5"/><circle cx="738.7" cy="712.3" r="7.5"/><circle cx="1277.8" cy="1037.8" r="7.5"/><circle cx="798.7" cy="958.3" r="7.5"/><circle cx="747.6" cy="770.6" r="7.5"/><circle cx="1769.2" cy="1034.1" r="7.5"/><circle cx="809.8" cy="969.5" r="7.5"/><circle cx="722.1" cy="557.8" r="7.5"/><circle cx="811.4" cy="994.7" r="7.5"/><circle cx="793.9" cy="822.9" r="7.5"/><circle cx="780.1" cy="637.8" r="7.5"/><circle cx="1746.1" cy="1036.3" r="7.5"/><circle cx="721.5" cy="756.2" r="7.5"/><circle cx="923.9" cy="856.8" r="7.5"/><circle cx="732.5" cy="802.5" r="7.5"/><circle cx="857.4" cy="965.3" r="7.5"/><circle cx="809.6" cy="982.8" r="7.5"/><circle cx="778.2" cy="932.3" r="7.5"/><circle cx="1028.3" cy="1000.6" r="7.5"/><circle cx="779.6" cy="623.8" r="7.5"/><circle cx="1194.1" cy="1013.0" r="7.5"/><circle cx="825.3" cy="879.1" r="7.5"/><circle cx="792.7" cy="740.5" r="7.5"/><circle cx="1544.1" cy="1015.5" r="7.5"/><circle cx="732.6" cy="717.8" r="7.5"/><circle cx="932.7" cy="921.2" r="7.5"/><circle cx="998.0" cy="996.5" r="7.5"/><circle cx="1044.3" cy="1026.4" r="7.5"/><circle cx="920.2" cy="941.7" r="7.5"/><circle cx="776.5" cy="935.2" r="7.5"/><circle cx="782.4" cy="933.4" r="7.5"/><circle cx="1048.4" cy="1024.2" r="7.5"/><circle cx="1310.0" cy="1005.0" r="7.5"/><circle cx="1259.8" cy="1011.8" r="7.5"/><circle cx="945.5" cy="1009.5" r="7.5"/><circle cx="1464.0" cy="1005.1" r="7.5"/><circle cx="1103.8" cy="1005.7" r="7.5"/><circle cx="819.9" cy="777.7" r="7.5"/><circle cx="1058.3" cy="1032.5" r="7.5"/><circle cx="1152.9" cy="967.1" r="7.5"/><circle cx="981.3" cy="975.2" r="7.5"/><circle cx="1493.7" cy="1034.3" r="7.5"/><circle cx="1434.7" cy="1041.7" r="7.5"/><circle cx="763.5" cy="876.2" r="7.5"/><circle cx="836.8" cy="905.5" r="7.5"/><circle cx="1323.9" cy="1022.5" r="7.5"/><circle cx="810.0" cy="940.9" r="7.5"/><circle cx="723.1" cy="659.1" r="7.5"/><circle cx="764.2" cy="964.4" r="7.5"/><circle cx="905.7" cy="946.6" r="7.5"/><circle cx="1155.1" cy="1008.4" r="7.5"/><circle cx="1252.1" cy="994.7" r="7.5"/><circle cx="964.0" cy="918.9" r="7.5"/><circle cx="819.3" cy="871.8" r="7.5"/><circle cx="1526.2" cy="1037.1" r="7.5"/><circle cx="811.1" cy="944.2" r="7.5"/><circle cx="1235.3" cy="1039.2" r="7.5"/><circle cx="795.2" cy="754.0" r="7.5"/><circle cx="1105.1" cy="946.6" r="7.5"/><circle cx="731.5" cy="692.6" r="7.5"/><circle cx="924.2" cy="812.9" r="7.5"/><circle cx="1032.7" cy="1027.1" r="7.5"/><circle cx="979.5" cy="1023.0" r="7.5"/><circle cx="1422.7" cy="1027.3" r="7.5"/><circle cx="873.4" cy="906.4" r="7.5"/><circle cx="948.9" cy="1014.0" r="7.5"/><circle cx="1245.8" cy="1017.2" r="7.5"/><circle cx="1607.9" cy="1037.6" r="7.5"/><circle cx="1278.8" cy="1019.4" r="7.5"/><circle cx="934.0" cy="956.2" r="7.5"/><circle cx="970.0" cy="987.5" r="7.5"/><circle cx="762.5" cy="555.9" r="7.5"/><circle cx="783.4" cy="724.3" r="7.5"/><circle cx="1550.5" cy="1013.7" r="7.5"/><circle cx="952.7" cy="939.0" r="7.5"/><circle cx="1031.3" cy="1023.6" r="7.5"/><circle cx="1262.4" cy="967.7" r="7.5"/><circle cx="947.7" cy="951.1" r="7.5"/><circle cx="1246.5" cy="981.5" r="7.5"/><circle cx="722.4" cy="594.3" r="7.5"/><circle cx="1030.6" cy="1004.3" r="7.5"/><circle cx="1450.4" cy="1008.4" r="7.5"/><circle cx="852.3" cy="937.2" r="7.5"/><circle cx="754.1" cy="784.1" r="7.5"/><circle cx="741.2" cy="761.1" r="7.5"/><circle cx="841.8" cy="806.9" r="7.5"/><circle cx="1729.0" cy="1032.2" r="7.5"/><circle cx="971.8" cy="1007.7" r="7.5"/><circle cx="1259.9" cy="1028.4" r="7.5"/><circle cx="966.5" cy="965.9" r="7.5"/><circle cx="1074.1" cy="960.2" r="7.5"/><circle cx="1480.2" cy="1022.7" r="7.5"/><circle cx="1062.4" cy="1020.7" r="7.5"/><circle cx="1438.8" cy="1038.7" r="7.5"/><circle cx="1248.7" cy="982.0" r="7.5"/><circle cx="1338.4" cy="1032.2" r="7.5"/><circle cx="1184.0" cy="993.1" r="7.5"/><circle cx="794.4" cy="875.7" r="7.5"/><circle cx="924.0" cy="879.3" r="7.5"/><circle cx="903.9" cy="934.0" r="7.5"/><circle cx="737.3" cy="818.7" r="7.5"/><circle cx="1105.2" cy="969.0" r="7.5"/><circle cx="874.5" cy="920.7" r="7.5"/><circle cx="1117.1" cy="965.2" r="7.5"/><circle cx="795.2" cy="648.9" r="7.5"/><circle cx="1576.7" cy="1025.5" r="7.5"/><circle cx="923.7" cy="801.2" r="7.5"/><circle cx="1027.8" cy="937.6" r="7.5"/><circle cx="773.3" cy="847.3" r="7.5"/><circle cx="754.3" cy="664.0" r="7.5"/><circle cx="1144.7" cy="1002.0" r="7.5"/><circle cx="918.3" cy="974.5" r="7.5"/><circle cx="1178.6" cy="1006.2" r="7.5"/><circle cx="1340.0" cy="998.2" r="7.5"/><circle cx="777.3" cy="808.0" r="7.5"/><circle cx="722.8" cy="730.2" r="7.5"/><circle cx="1697.8" cy="1034.2" r="7.5"/><circle cx="1417.4" cy="990.1" r="7.5"/><circle cx="856.7" cy="927.3" r="7.5"/><circle cx="1550.8" cy="1027.9" r="7.5"/><circle cx="1464.2" cy="1001.6" r="7.5"/><circle cx="1683.5" cy="1027.2" r="7.5"/><circle cx="1604.9" cy="1027.8" r="7.5"/><circle cx="1166.4" cy="1026.9" r="7.5"/><circle cx="1149.5" cy="971.9" r="7.5"/><circle cx="934.3" cy="1017.2" r="7.5"/><circle cx="949.8" cy="907.6" r="7.5"/><circle cx="831.2" cy="814.9" r="7.5"/><circle cx="842.1" cy="996.3" r="7.5"/><circle cx="1375.1" cy="1020.6" r="7.5"/><circle cx="982.2" cy="1010.7" r="7.5"/><circle cx="1356.3" cy="1025.5" r="7.5"/><circle cx="936.8" cy="1018.1" r="7.5"/><circle cx="933.8" cy="918.6" r="7.5"/><circle cx="1027.7" cy="868.6" r="7.5"/><circle cx="810.5" cy="910.2" r="7.5"/><circle cx="723.3" cy="615.8" r="7.5"/><circle cx="1417.0" cy="1001.5" r="7.5"/><circle cx="773.3" cy="801.2" r="7.5"/><circle cx="762.7" cy="898.4" r="7.5"/><circle cx="820.0" cy="793.9" r="7.5"/><circle cx="886.8" cy="925.0" r="7.5"/><circle cx="732.4" cy="890.1" r="7.5"/><circle cx="1275.5" cy="992.4" r="7.5"/><circle cx="746.8" cy="921.0" r="7.5"/><circle cx="969.5" cy="980.5" r="7.5"/><circle cx="905.3" cy="1010.0" r="7.5"/><circle cx="999.2" cy="1010.4" r="7.5"/><circle cx="1020.5" cy="1023.3" r="7.5"/><circle cx="899.7" cy="937.7" r="7.5"/><circle cx="841.4" cy="782.8" r="7.5"/><circle cx="841.3" cy="815.8" r="7.5"/><circle cx="778.5" cy="607.9" r="7.5"/><circle cx="1401.8" cy="1029.6" r="7.5"/><circle cx="923.7" cy="892.2" r="7.5"/><circle cx="778.2" cy="809.9" r="7.5"/><circle cx="1183.3" cy="988.5" r="7.5"/><circle cx="981.3" cy="987.7" r="7.5"/><circle cx="1605.6" cy="1014.7" r="7.5"/><circle cx="871.7" cy="569.5" r="7.5"/><circle cx="871.7" cy="808.4" r="7.5"/><circle cx="1373.1" cy="1014.3" r="7.5"/><circle cx="1105.4" cy="892.4" r="7.5"/><circle cx="747.2" cy="733.8" r="7.5"/><circle cx="933.4" cy="911.1" r="7.5"/><circle cx="1289.5" cy="1037.2" r="7.5"/><circle cx="721.5" cy="634.5" r="7.5"/><circle cx="842.6" cy="883.1" r="7.5"/><circle cx="903.0" cy="906.2" r="7.5"/><circle cx="842.4" cy="969.9" r="7.5"/><circle cx="948.3" cy="916.4" r="7.5"/><circle cx="1479.4" cy="1026.4" r="7.5"/><circle cx="733.2" cy="594.8" r="7.5"/><circle cx="1183.0" cy="975.8" r="7.5"/><circle cx="747.7" cy="548.5" r="7.5"/><circle cx="918.1" cy="999.7" r="7.5"/><circle cx="1634.2" cy="1038.4" r="7.5"/><circle cx="949.2" cy="936.3" r="7.5"/><circle cx="721.9" cy="688.4" r="7.5"/><circle cx="823.2" cy="802.3" r="7.5"/><circle cx="840.4" cy="1005.9" r="7.5"/><circle cx="872.6" cy="961.3" r="7.5"/><circle cx="778.0" cy="734.0" r="7.5"/><circle cx="963.5" cy="933.2" r="7.5"/><circle cx="1031.4" cy="1017.3" r="7.5"/><circle cx="1021.8" cy="1029.8" r="7.5"/><circle cx="1229.7" cy="986.7" r="7.5"/><circle cx="1199.8" cy="994.7" r="7.5"/><circle cx="971.1" cy="1027.8" r="7.5"/><circle cx="826.6" cy="950.1" r="7.5"/><circle cx="747.9" cy="846.3" r="7.5"/><circle cx="772.2" cy="747.8" r="7.5"/><circle cx="1494.7" cy="1024.5" r="7.5"/><circle cx="1417.3" cy="933.0" r="7.5"/><circle cx="722.6" cy="710.9" r="7.5"/><circle cx="773.9" cy="835.2" r="7.5"/><circle cx="1105.2" cy="964.4" r="7.5"/><circle cx="950.0" cy="855.2" r="7.5"/><circle cx="856.3" cy="890.7" r="7.5"/><circle cx="1494.8" cy="992.6" r="7.5"/><circle cx="1119.3" cy="1020.8" r="7.5"/><circle cx="886.1" cy="904.4" r="7.5"/><circle cx="1263.6" cy="988.9" r="7.5"/><circle cx="916.9" cy="999.7" r="7.5"/><circle cx="1586.9" cy="1014.3" r="7.5"/><circle cx="1387.5" cy="1038.3" r="7.5"/><circle cx="1015.6" cy="1013.5" r="7.5"/><circle cx="1213.9" cy="996.1" r="7.5"/><circle cx="1091.4" cy="960.4" r="7.5"/><circle cx="978.1" cy="938.2" r="7.5"/><circle cx="795.3" cy="741.1" r="7.5"/><circle cx="887.2" cy="946.3" r="7.5"/><circle cx="763.1" cy="588.1" r="7.5"/><circle cx="1429.7" cy="1020.8" r="7.5"/><circle cx="834.3" cy="866.9" r="7.5"/><circle cx="1310.8" cy="1034.8" r="7.5"/><circle cx="924.2" cy="911.5" r="7.5"/><circle cx="833.7" cy="964.0" r="7.5"/><circle cx="779.2" cy="919.5" r="7.5"/><circle cx="749.8" cy="711.0" r="7.5"/><circle cx="1419.3" cy="1025.8" r="7.5"/><circle cx="733.5" cy="728.2" r="7.5"/><circle cx="923.8" cy="832.2" r="7.5"/><circle cx="842.2" cy="812.5" r="7.5"/><circle cx="723.4" cy="423.4" r="7.5"/><circle cx="730.8" cy="446.8" r="7.5"/><circle cx="751.0" cy="454.2" r="7.5"/><circle cx="729.6" cy="461.6" r="7.5"/><circle cx="751.7" cy="471.4" r="7.5"/><circle cx="778.8" cy="471.4" r="7.5"/><circle cx="719.7" cy="476.4" r="7.5"/><circle cx="730.8" cy="478.8" r="7.5"/><circle cx="756.7" cy="480.0" r="7.5"/><circle cx="778.8" cy="482.5" r="7.5"/><circle cx="738.2" cy="493.6" r="7.5"/><circle cx="751.0" cy="493.6" r="7.5"/><circle cx="723.4" cy="503.4" r="7.5"/><circle cx="778.8" cy="509.6" r="7.5"/><circle cx="729.6" cy="517.7" r="7.5"/><circle cx="755.4" cy="517.0" r="7.5"/><circle cx="760.8" cy="526.8" r="7.5"/><circle cx="732.0" cy="535.5" r="7.5"/><circle cx="744.3" cy="534.2" r="7.5"/><circle cx="755.4" cy="541.6" r="7.5"/><circle cx="739.4" cy="550.2" r="7.5"/><circle cx="755.4" cy="550.2" r="7.5"/><circle cx="722.2" cy="560.1" r="7.5"/><circle cx="734.5" cy="560.1" r="7.5"/><circle cx="749.3" cy="558.9" r="7.5"/><circle cx="778.8" cy="565.0" r="7.5"/><circle cx="767.7" cy="572.4" r="7.5"/><circle cx="805.2" cy="582.3" r="7.5"/><circle cx="751.0" cy="582.3" r="7.5"/><circle cx="735.7" cy="581.0" r="7.5"/><circle cx="723.4" cy="582.3" r="7.5"/><circle cx="778.8" cy="589.7" r="7.5"/><circle cx="778.8" cy="597.0" r="7.5"/><circle cx="732.0" cy="597.0" r="7.5"/><circle cx="719.7" cy="597.0" r="7.5"/><circle cx="793.6" cy="603.2" r="7.5"/><circle cx="755.4" cy="603.2" r="7.5"/><circle cx="744.3" cy="609.4" r="7.5"/><circle cx="766.5" cy="613.0" r="7.5"/><circle cx="778.8" cy="613.0" r="7.5"/><circle cx="793.6" cy="613.0" r="7.5"/><circle cx="778.8" cy="635.2" r="7.5"/><circle cx="766.5" cy="630.3" r="7.5"/><circle cx="793.6" cy="648.8" r="7.5"/><circle cx="793.6" cy="658.6" r="7.5"/><circle cx="778.8" cy="653.7" r="7.5"/><circle cx="849.0" cy="659.1" r="7.5"/><circle cx="793.6" cy="675.9" r="7.5"/><circle cx="805.2" cy="715.3" r="7.5"/><circle cx="893.3" cy="737.4" r="7.5"/><circle cx="924.1" cy="749.8" r="7.5"/><circle cx="806.0" cy="769.5" r="7.5"/><circle cx="833.0" cy="769.5" r="7.5"/><circle cx="902.5" cy="883.5" r="7.5"/><circle cx="975.9" cy="876.8" r="7.5"/><circle cx="996.8" cy="853.2" r="7.5"/><circle cx="993.1" cy="936.5" r="7.5"/><circle cx="1005.4" cy="951.2" r="7.5"/><circle cx="1051.0" cy="946.3" r="7.5"/><circle cx="1091.6" cy="921.7" r="7.5"/><circle cx="1091.6" cy="931.5" r="7.5"/><circle cx="1090.6" cy="918.2" r="7.5"/><circle cx="1131.3" cy="920.7" r="7.5"/><circle cx="1131.3" cy="942.9" r="7.5"/><circle cx="1151.7" cy="912.0" r="7.5"/><circle cx="1151.7" cy="937.9" r="7.5"/><circle cx="1162.0" cy="945.3" r="7.5"/><circle cx="1151.7" cy="955.2" r="7.5"/><circle cx="1296.3" cy="979.5" r="7.5"/><circle cx="1287.7" cy="984.4" r="7.5"/><circle cx="1305.0" cy="999.0" r="7.5"/><circle cx="1391.1" cy="984.4" r="7.5"/><circle cx="1402.2" cy="991.8" r="7.5"/><circle cx="1598.3" cy="1009.6" r="7.5"/><circle cx="1754.7" cy="1018.2" r="7.5"/><circle cx="1755.0" cy="1019.5" r="7.5"/><circle cx="1854.7" cy="1038.0" r="7.5"/><circle cx="1963.8" cy="1043.3" r="7.5"/><circle cx="2028.3" cy="1039.7" r="7.5"/><circle cx="772.0" cy="660.0" r="7.5"/><circle cx="784.0" cy="668.0" r="7.5"/><circle cx="770.0" cy="675.0" r="7.5"/><circle cx="786.0" cy="683.0" r="7.5"/><circle cx="776.0" cy="690.0" r="7.5"/><circle cx="790.0" cy="640.0" r="7.5"/><circle cx="771.0" cy="620.0" r="7.5"/><circle cx="785.0" cy="626.0" r="7.5"/>
</g>
<g fill="#9999ff" stroke="#000" stroke-width="2.4">
<circle cx="726.9" cy="870.9" r="7.1"/><circle cx="728.4" cy="890.4" r="7.1"/><circle cx="730.4" cy="894.6" r="7.1"/><circle cx="728.2" cy="897.7" r="7.1"/><circle cx="730.1" cy="905.5" r="7.1"/><circle cx="727.5" cy="909.8" r="7.1"/><circle cx="730.7" cy="917.4" r="7.1"/><circle cx="730.1" cy="919.6" r="7.1"/><circle cx="727.8" cy="928.7" r="7.1"/><circle cx="729.9" cy="931.4" r="7.1"/><circle cx="729.7" cy="939.4" r="7.1"/><circle cx="730.7" cy="945.9" r="7.1"/><circle cx="729.1" cy="950.2" r="7.1"/><circle cx="729.7" cy="955.0" r="7.1"/><circle cx="728.9" cy="958.1" r="7.1"/><circle cx="728.6" cy="965.1" r="7.1"/><circle cx="727.6" cy="970.5" r="7.1"/><circle cx="730.9" cy="976.7" r="7.1"/><circle cx="727.1" cy="982.5" r="7.1"/><circle cx="730.4" cy="987.4" r="7.1"/><circle cx="731.3" cy="994.0" r="7.1"/><circle cx="728.2" cy="997.0" r="7.1"/><circle cx="730.3" cy="1010.3" r="7.1"/><circle cx="730.0" cy="1027.5" r="7.1"/><circle cx="733.3" cy="903.1" r="7.1"/><circle cx="735.2" cy="910.7" r="7.1"/><circle cx="735.9" cy="911.7" r="7.1"/><circle cx="734.7" cy="917.5" r="7.1"/><circle cx="735.3" cy="927.0" r="7.1"/><circle cx="734.5" cy="932.1" r="7.1"/><circle cx="736.4" cy="938.3" r="7.1"/><circle cx="733.1" cy="939.9" r="7.1"/><circle cx="734.1" cy="948.2" r="7.1"/><circle cx="734.8" cy="954.9" r="7.1"/><circle cx="735.3" cy="955.7" r="7.1"/><circle cx="732.1" cy="961.8" r="7.1"/><circle cx="732.6" cy="968.2" r="7.1"/><circle cx="734.6" cy="972.3" r="7.1"/><circle cx="735.4" cy="979.7" r="7.1"/><circle cx="734.4" cy="985.0" r="7.1"/><circle cx="732.3" cy="989.6" r="7.1"/><circle cx="734.8" cy="998.9" r="7.1"/><circle cx="732.6" cy="1002.3" r="7.1"/><circle cx="736.9" cy="1008.7" r="7.1"/><circle cx="733.3" cy="1012.8" r="7.1"/><circle cx="733.9" cy="1019.0" r="7.1"/><circle cx="734.1" cy="1026.6" r="7.1"/><circle cx="734.5" cy="1030.9" r="7.1"/><circle cx="738.5" cy="929.3" r="7.1"/><circle cx="738.5" cy="932.6" r="7.1"/><circle cx="741.2" cy="937.3" r="7.1"/><circle cx="738.0" cy="947.4" r="7.1"/><circle cx="740.6" cy="952.4" r="7.1"/><circle cx="739.7" cy="958.0" r="7.1"/><circle cx="741.4" cy="962.4" r="7.1"/><circle cx="738.3" cy="965.1" r="7.1"/><circle cx="740.5" cy="973.6" r="7.1"/><circle cx="740.3" cy="980.5" r="7.1"/><circle cx="741.6" cy="986.0" r="7.1"/><circle cx="739.7" cy="988.8" r="7.1"/><circle cx="738.1" cy="992.6" r="7.1"/><circle cx="738.4" cy="1002.2" r="7.1"/><circle cx="741.9" cy="1006.0" r="7.1"/><circle cx="742.0" cy="1012.2" r="7.1"/><circle cx="738.7" cy="1017.0" r="7.1"/><circle cx="741.6" cy="1019.9" r="7.1"/><circle cx="739.2" cy="1027.3" r="7.1"/><circle cx="742.4" cy="1035.6" r="7.1"/><circle cx="747.8" cy="939.3" r="7.1"/><circle cx="745.8" cy="941.1" r="7.1"/><circle cx="745.4" cy="949.4" r="7.1"/><circle cx="746.1" cy="954.6" r="7.1"/><circle cx="743.7" cy="958.9" r="7.1"/><circle cx="743.9" cy="967.0" r="7.1"/><circle cx="743.7" cy="969.8" r="7.1"/><circle cx="746.0" cy="974.2" r="7.1"/><circle cx="746.2" cy="983.2" r="7.1"/><circle cx="746.6" cy="987.0" r="7.1"/><circle cx="745.1" cy="989.7" r="7.1"/><circle cx="745.6" cy="996.8" r="7.1"/><circle cx="744.7" cy="1004.8" r="7.1"/><circle cx="747.0" cy="1008.6" r="7.1"/><circle cx="747.2" cy="1012.2" r="7.1"/><circle cx="743.1" cy="1019.5" r="7.1"/><circle cx="747.8" cy="1027.2" r="7.1"/><circle cx="745.5" cy="1028.6" r="7.1"/><circle cx="745.6" cy="1034.4" r="7.1"/><circle cx="743.2" cy="1040.1" r="7.1"/><circle cx="752.4" cy="953.5" r="7.1"/><circle cx="748.6" cy="958.5" r="7.1"/><circle cx="752.7" cy="963.4" r="7.1"/><circle cx="752.9" cy="973.2" r="7.1"/><circle cx="748.8" cy="976.2" r="7.1"/><circle cx="749.1" cy="980.5" r="7.1"/><circle cx="751.4" cy="985.5" r="7.1"/><circle cx="748.9" cy="994.9" r="7.1"/><circle cx="750.9" cy="1000.6" r="7.1"/><circle cx="749.5" cy="1002.6" r="7.1"/><circle cx="751.6" cy="1009.8" r="7.1"/><circle cx="752.4" cy="1015.0" r="7.1"/><circle cx="751.8" cy="1022.5" r="7.1"/><circle cx="750.9" cy="1024.0" r="7.1"/><circle cx="750.7" cy="1033.0" r="7.1"/><circle cx="753.3" cy="1037.2" r="7.1"/><circle cx="753.3" cy="1043.8" r="7.1"/><circle cx="758.6" cy="959.0" r="7.1"/><circle cx="758.7" cy="962.9" r="7.1"/><circle cx="757.0" cy="966.5" r="7.1"/><circle cx="757.7" cy="973.1" r="7.1"/><circle cx="756.8" cy="977.7" r="7.1"/><circle cx="758.4" cy="984.9" r="7.1"/><circle cx="758.1" cy="989.5" r="7.1"/><circle cx="756.2" cy="994.6" r="7.1"/><circle cx="758.4" cy="999.9" r="7.1"/><circle cx="755.1" cy="1003.9" r="7.1"/><circle cx="757.9" cy="1011.0" r="7.1"/><circle cx="757.6" cy="1016.5" r="7.1"/><circle cx="758.2" cy="1021.1" r="7.1"/><circle cx="756.2" cy="1027.2" r="7.1"/><circle cx="756.6" cy="1034.0" r="7.1"/><circle cx="754.3" cy="1040.0" r="7.1"/><circle cx="757.5" cy="1044.3" r="7.1"/><circle cx="759.6" cy="962.6" r="7.1"/><circle cx="762.3" cy="970.0" r="7.1"/><circle cx="762.1" cy="973.0" r="7.1"/><circle cx="764.3" cy="982.8" r="7.1"/><circle cx="762.8" cy="986.5" r="7.1"/><circle cx="763.7" cy="992.6" r="7.1"/><circle cx="762.9" cy="999.5" r="7.1"/><circle cx="763.6" cy="1002.0" r="7.1"/><circle cx="763.4" cy="1010.7" r="7.1"/><circle cx="761.5" cy="1014.1" r="7.1"/><circle cx="759.8" cy="1019.6" r="7.1"/><circle cx="763.1" cy="1024.2" r="7.1"/><circle cx="763.2" cy="1029.8" r="7.1"/><circle cx="764.0" cy="1035.3" r="7.1"/><circle cx="761.9" cy="1043.1" r="7.1"/><circle cx="760.9" cy="1046.4" r="7.1"/><circle cx="765.8" cy="972.5" r="7.1"/><circle cx="768.6" cy="975.2" r="7.1"/><circle cx="766.9" cy="981.5" r="7.1"/><circle cx="769.9" cy="987.1" r="7.1"/><circle cx="765.2" cy="990.9" r="7.1"/><circle cx="768.2" cy="996.0" r="7.1"/><circle cx="766.4" cy="1003.5" r="7.1"/><circle cx="767.6" cy="1009.9" r="7.1"/><circle cx="765.4" cy="1014.9" r="7.1"/><circle cx="768.8" cy="1021.8" r="7.1"/><circle cx="769.2" cy="1023.8" r="7.1"/><circle cx="765.1" cy="1032.3" r="7.1"/><circle cx="767.3" cy="1036.2" r="7.1"/><circle cx="766.2" cy="1042.6" r="7.1"/><circle cx="765.3" cy="1046.0" r="7.1"/><circle cx="771.9" cy="974.6" r="7.1"/><circle cx="772.4" cy="983.3" r="7.1"/><circle cx="771.2" cy="985.3" r="7.1"/><circle cx="772.7" cy="991.0" r="7.1"/><circle cx="774.9" cy="995.5" r="7.1"/><circle cx="771.1" cy="1002.2" r="7.1"/><circle cx="772.7" cy="1007.9" r="7.1"/><circle cx="775.3" cy="1016.5" r="7.1"/><circle cx="773.7" cy="1017.8" r="7.1"/><circle cx="774.9" cy="1027.0" r="7.1"/><circle cx="771.3" cy="1032.6" r="7.1"/><circle cx="774.3" cy="1034.0" r="7.1"/><circle cx="770.6" cy="1042.8" r="7.1"/><circle cx="772.1" cy="1044.7" r="7.1"/><circle cx="781.0" cy="980.8" r="7.1"/><circle cx="777.7" cy="987.3" r="7.1"/><circle cx="777.8" cy="989.9" r="7.1"/><circle cx="778.1" cy="996.5" r="7.1"/><circle cx="779.6" cy="1004.6" r="7.1"/><circle cx="780.3" cy="1007.2" r="7.1"/><circle cx="780.0" cy="1015.6" r="7.1"/><circle cx="779.5" cy="1020.4" r="7.1"/><circle cx="780.7" cy="1024.4" r="7.1"/><circle cx="776.1" cy="1029.9" r="7.1"/><circle cx="776.0" cy="1037.7" r="7.1"/><circle cx="780.6" cy="1038.3" r="7.1"/><circle cx="779.9" cy="1047.1" r="7.1"/><circle cx="783.9" cy="982.2" r="7.1"/><circle cx="785.3" cy="989.7" r="7.1"/><circle cx="785.5" cy="995.2" r="7.1"/><circle cx="783.9" cy="1001.9" r="7.1"/><circle cx="783.2" cy="1007.6" r="7.1"/><circle cx="784.9" cy="1011.2" r="7.1"/><circle cx="786.2" cy="1018.6" r="7.1"/><circle cx="783.3" cy="1022.4" r="7.1"/><circle cx="781.7" cy="1028.5" r="7.1"/><circle cx="781.8" cy="1035.7" r="7.1"/><circle cx="786.5" cy="1040.4" r="7.1"/><circle cx="785.3" cy="1044.4" r="7.1"/><circle cx="791.3" cy="990.2" r="7.1"/><circle cx="788.1" cy="993.8" r="7.1"/><circle cx="788.8" cy="999.2" r="7.1"/><circle cx="791.9" cy="1005.4" r="7.1"/><circle cx="791.5" cy="1008.7" r="7.1"/><circle cx="788.9" cy="1016.3" r="7.1"/><circle cx="790.7" cy="1020.3" r="7.1"/><circle cx="788.9" cy="1028.2" r="7.1"/><circle cx="790.2" cy="1034.8" r="7.1"/><circle cx="787.0" cy="1039.8" r="7.1"/><circle cx="790.2" cy="1044.9" r="7.1"/><circle cx="794.4" cy="993.6" r="7.1"/><circle cx="796.1" cy="998.3" r="7.1"/><circle cx="794.6" cy="1001.5" r="7.1"/><circle cx="794.6" cy="1009.4" r="7.1"/><circle cx="797.4" cy="1014.6" r="7.1"/><circle cx="795.7" cy="1017.7" r="7.1"/><circle cx="796.9" cy="1023.6" r="7.1"/><circle cx="793.6" cy="1028.4" r="7.1"/><circle cx="795.7" cy="1034.9" r="7.1"/><circle cx="793.4" cy="1038.2" r="7.1"/><circle cx="795.4" cy="1044.6" r="7.1"/><circle cx="799.6" cy="992.5" r="7.1"/><circle cx="799.8" cy="1000.4" r="7.1"/><circle cx="799.9" cy="1002.4" r="7.1"/><circle cx="800.8" cy="1010.6" r="7.1"/><circle cx="800.7" cy="1017.7" r="7.1"/><circle cx="802.8" cy="1021.8" r="7.1"/><circle cx="802.5" cy="1028.7" r="7.1"/><circle cx="798.1" cy="1032.8" r="7.1"/><circle cx="800.9" cy="1039.3" r="7.1"/><circle cx="802.2" cy="1042.3" r="7.1"/><circle cx="803.7" cy="994.3" r="7.1"/><circle cx="806.1" cy="1003.9" r="7.1"/><circle cx="805.0" cy="1006.6" r="7.1"/><circle cx="805.3" cy="1013.6" r="7.1"/><circle cx="803.7" cy="1018.6" r="7.1"/><circle cx="804.2" cy="1021.5" r="7.1"/><circle cx="803.8" cy="1031.4" r="7.1"/><circle cx="804.3" cy="1034.3" r="7.1"/><circle cx="804.0" cy="1039.5" r="7.1"/><circle cx="808.0" cy="1047.0" r="7.1"/><circle cx="811.9" cy="998.9" r="7.1"/><circle cx="811.5" cy="1003.8" r="7.1"/><circle cx="810.5" cy="1009.3" r="7.1"/><circle cx="813.8" cy="1014.5" r="7.1"/><circle cx="811.0" cy="1019.4" r="7.1"/><circle cx="812.9" cy="1024.8" r="7.1"/><circle cx="810.4" cy="1032.2" r="7.1"/><circle cx="809.6" cy="1037.2" r="7.1"/><circle cx="812.2" cy="1043.7" r="7.1"/><circle cx="810.2" cy="1047.3" r="7.1"/><circle cx="818.9" cy="1002.3" r="7.1"/><circle cx="816.5" cy="1005.7" r="7.1"/><circle cx="816.8" cy="1013.7" r="7.1"/><circle cx="816.5" cy="1015.4" r="7.1"/><circle cx="816.0" cy="1022.4" r="7.1"/><circle cx="817.9" cy="1028.0" r="7.1"/><circle cx="818.1" cy="1034.7" r="7.1"/><circle cx="815.8" cy="1039.4" r="7.1"/><circle cx="819.2" cy="1045.5" r="7.1"/><circle cx="821.8" cy="1000.0" r="7.1"/><circle cx="823.9" cy="1005.7" r="7.1"/><circle cx="823.4" cy="1013.0" r="7.1"/><circle cx="822.1" cy="1021.0" r="7.1"/><circle cx="821.6" cy="1024.3" r="7.1"/><circle cx="822.3" cy="1031.2" r="7.1"/><circle cx="824.1" cy="1033.9" r="7.1"/><circle cx="822.7" cy="1041.0" r="7.1"/><circle cx="824.0" cy="1045.9" r="7.1"/><circle cx="829.8" cy="1004.0" r="7.1"/><circle cx="829.2" cy="1009.9" r="7.1"/><circle cx="825.8" cy="1013.9" r="7.1"/><circle cx="828.7" cy="1018.9" r="7.1"/><circle cx="826.2" cy="1024.2" r="7.1"/><circle cx="827.8" cy="1031.1" r="7.1"/><circle cx="828.1" cy="1035.5" r="7.1"/><circle cx="825.8" cy="1040.5" r="7.1"/><circle cx="826.4" cy="1047.6" r="7.1"/><circle cx="834.7" cy="1007.3" r="7.1"/><circle cx="831.4" cy="1013.2" r="7.1"/><circle cx="834.2" cy="1017.7" r="7.1"/><circle cx="835.4" cy="1020.2" r="7.1"/><circle cx="835.5" cy="1029.4" r="7.1"/><circle cx="833.2" cy="1033.0" r="7.1"/><circle cx="832.9" cy="1037.2" r="7.1"/><circle cx="832.0" cy="1042.1" r="7.1"/><circle cx="838.1" cy="1006.3" r="7.1"/><circle cx="839.9" cy="1012.3" r="7.1"/><circle cx="838.3" cy="1017.0" r="7.1"/><circle cx="838.6" cy="1025.9" r="7.1"/><circle cx="836.8" cy="1031.1" r="7.1"/><circle cx="840.4" cy="1035.1" r="7.1"/><circle cx="840.7" cy="1039.7" r="7.1"/><circle cx="839.3" cy="1047.8" r="7.1"/><circle cx="843.9" cy="1009.2" r="7.1"/><circle cx="845.3" cy="1011.4" r="7.1"/><circle cx="845.8" cy="1017.7" r="7.1"/><circle cx="842.4" cy="1024.9" r="7.1"/><circle cx="846.2" cy="1029.8" r="7.1"/><circle cx="845.7" cy="1035.4" r="7.1"/><circle cx="844.1" cy="1041.8" r="7.1"/><circle cx="846.4" cy="1045.9" r="7.1"/><circle cx="850.8" cy="1010.3" r="7.1"/><circle cx="851.5" cy="1016.4" r="7.1"/><circle cx="851.6" cy="1018.5" r="7.1"/><circle cx="850.8" cy="1023.8" r="7.1"/><circle cx="850.7" cy="1030.4" r="7.1"/><circle cx="848.9" cy="1036.8" r="7.1"/><circle cx="852.2" cy="1041.4" r="7.1"/><circle cx="851.1" cy="1048.2" r="7.1"/><circle cx="857.4" cy="1011.7" r="7.1"/><circle cx="853.2" cy="1014.6" r="7.1"/><circle cx="853.6" cy="1022.2" r="7.1"/><circle cx="854.9" cy="1028.5" r="7.1"/><circle cx="856.7" cy="1032.2" r="7.1"/><circle cx="857.9" cy="1040.1" r="7.1"/><circle cx="853.4" cy="1045.4" r="7.1"/><circle cx="859.1" cy="1012.3" r="7.1"/><circle cx="862.3" cy="1018.0" r="7.1"/><circle cx="863.0" cy="1025.0" r="7.1"/><circle cx="863.4" cy="1029.5" r="7.1"/><circle cx="862.6" cy="1035.7" r="7.1"/><circle cx="858.9" cy="1038.4" r="7.1"/><circle cx="860.3" cy="1042.9" r="7.1"/><circle cx="864.7" cy="1012.5" r="7.1"/><circle cx="867.6" cy="1016.7" r="7.1"/><circle cx="864.6" cy="1024.3" r="7.1"/><circle cx="865.0" cy="1029.8" r="7.1"/><circle cx="867.1" cy="1033.1" r="7.1"/><circle cx="868.2" cy="1040.7" r="7.1"/><circle cx="865.7" cy="1047.5" r="7.1"/><circle cx="871.9" cy="1013.6" r="7.1"/><circle cx="869.5" cy="1017.1" r="7.1"/><circle cx="871.8" cy="1023.5" r="7.1"/><circle cx="869.8" cy="1027.9" r="7.1"/><circle cx="873.3" cy="1034.0" r="7.1"/><circle cx="869.9" cy="1040.1" r="7.1"/><circle cx="873.3" cy="1046.5" r="7.1"/><circle cx="880.0" cy="1014.7" r="7.1"/><circle cx="875.7" cy="1020.7" r="7.1"/><circle cx="879.5" cy="1023.1" r="7.1"/><circle cx="880.0" cy="1030.4" r="7.1"/><circle cx="878.0" cy="1034.5" r="7.1"/><circle cx="876.9" cy="1043.0" r="7.1"/><circle cx="878.5" cy="1045.8" r="7.1"/><circle cx="885.1" cy="1013.5" r="7.1"/><circle cx="883.6" cy="1023.1" r="7.1"/><circle cx="883.9" cy="1026.0" r="7.1"/><circle cx="884.7" cy="1029.7" r="7.1"/><circle cx="882.1" cy="1038.4" r="7.1"/><circle cx="882.6" cy="1040.9" r="7.1"/><circle cx="884.0" cy="1048.5" r="7.1"/><circle cx="890.7" cy="1014.7" r="7.1"/><circle cx="890.0" cy="1020.3" r="7.1"/><circle cx="887.6" cy="1029.2" r="7.1"/><circle cx="890.8" cy="1034.4" r="7.1"/><circle cx="887.9" cy="1037.8" r="7.1"/><circle cx="890.0" cy="1043.1" r="7.1"/><circle cx="892.6" cy="1016.9" r="7.1"/><circle cx="892.4" cy="1021.3" r="7.1"/><circle cx="894.3" cy="1028.4" r="7.1"/><circle cx="895.5" cy="1033.5" r="7.1"/><circle cx="891.9" cy="1038.0" r="7.1"/><circle cx="892.3" cy="1046.0" r="7.1"/><circle cx="900.0" cy="1017.0" r="7.1"/><circle cx="901.3" cy="1024.8" r="7.1"/><circle cx="901.8" cy="1028.1" r="7.1"/><circle cx="900.8" cy="1033.0" r="7.1"/><circle cx="899.6" cy="1041.3" r="7.1"/><circle cx="901.4" cy="1046.0" r="7.1"/><circle cx="904.5" cy="1017.6" r="7.1"/><circle cx="906.1" cy="1023.4" r="7.1"/><circle cx="906.9" cy="1027.1" r="7.1"/><circle cx="907.2" cy="1033.1" r="7.1"/><circle cx="904.5" cy="1038.8" r="7.1"/><circle cx="904.6" cy="1046.1" r="7.1"/><circle cx="908.1" cy="1017.6" r="7.1"/><circle cx="911.7" cy="1022.9" r="7.1"/><circle cx="910.1" cy="1030.7" r="7.1"/><circle cx="909.8" cy="1035.1" r="7.1"/><circle cx="910.1" cy="1041.8" r="7.1"/><circle cx="908.3" cy="1045.4" r="7.1"/><circle cx="914.7" cy="1018.5" r="7.1"/><circle cx="915.3" cy="1023.0" r="7.1"/><circle cx="913.8" cy="1032.1" r="7.1"/><circle cx="916.3" cy="1035.8" r="7.1"/><circle cx="916.6" cy="1043.0" r="7.1"/><circle cx="913.8" cy="1045.1" r="7.1"/><circle cx="922.0" cy="1020.8" r="7.1"/><circle cx="920.6" cy="1026.0" r="7.1"/><circle cx="923.5" cy="1028.9" r="7.1"/><circle cx="922.4" cy="1038.1" r="7.1"/><circle cx="922.9" cy="1039.6" r="7.1"/><circle cx="920.7" cy="1048.0" r="7.1"/><circle cx="925.4" cy="1018.9" r="7.1"/><circle cx="928.1" cy="1027.6" r="7.1"/><circle cx="924.8" cy="1032.5" r="7.1"/><circle cx="928.1" cy="1036.5" r="7.1"/><circle cx="924.7" cy="1040.7" r="7.1"/><circle cx="926.8" cy="1049.4" r="7.1"/><circle cx="932.7" cy="1022.8" r="7.1"/><circle cx="932.0" cy="1026.1" r="7.1"/><circle cx="934.3" cy="1029.7" r="7.1"/><circle cx="931.4" cy="1036.3" r="7.1"/><circle cx="931.5" cy="1040.8" r="7.1"/><circle cx="933.1" cy="1045.9" r="7.1"/><circle cx="936.1" cy="1019.5" r="7.1"/><circle cx="937.3" cy="1026.3" r="7.1"/><circle cx="936.0" cy="1032.2" r="7.1"/><circle cx="936.8" cy="1036.6" r="7.1"/><circle cx="939.9" cy="1044.2" r="7.1"/><circle cx="935.9" cy="1047.7" r="7.1"/><circle cx="943.2" cy="1020.7" r="7.1"/><circle cx="941.2" cy="1027.5" r="7.1"/><circle cx="941.6" cy="1031.9" r="7.1"/><circle cx="942.3" cy="1037.9" r="7.1"/><circle cx="943.8" cy="1042.7" r="7.1"/><circle cx="951.1" cy="1022.7" r="7.1"/><circle cx="948.2" cy="1027.0" r="7.1"/><circle cx="950.8" cy="1032.1" r="7.1"/><circle cx="947.4" cy="1038.4" r="7.1"/><circle cx="951.0" cy="1043.0" r="7.1"/><circle cx="954.8" cy="1021.3" r="7.1"/><circle cx="956.6" cy="1028.6" r="7.1"/><circle cx="954.8" cy="1033.7" r="7.1"/><circle cx="956.1" cy="1039.3" r="7.1"/><circle cx="953.5" cy="1045.4" r="7.1"/><circle cx="959.1" cy="1025.0" r="7.1"/><circle cx="960.9" cy="1029.7" r="7.1"/><circle cx="959.4" cy="1035.8" r="7.1"/><circle cx="960.8" cy="1038.7" r="7.1"/><circle cx="957.8" cy="1046.5" r="7.1"/><circle cx="966.0" cy="1022.8" r="7.1"/><circle cx="963.1" cy="1028.0" r="7.1"/><circle cx="966.0" cy="1033.3" r="7.1"/><circle cx="967.5" cy="1039.0" r="7.1"/><circle cx="963.1" cy="1046.6" r="7.1"/><circle cx="970.7" cy="1021.1" r="7.1"/><circle cx="968.5" cy="1030.9" r="7.1"/><circle cx="970.1" cy="1034.3" r="7.1"/><circle cx="969.6" cy="1040.6" r="7.1"/><circle cx="973.4" cy="1043.4" r="7.1"/><circle cx="974.5" cy="1022.7" r="7.1"/><circle cx="974.2" cy="1030.7" r="7.1"/><circle cx="977.7" cy="1036.3" r="7.1"/><circle cx="974.1" cy="1040.6" r="7.1"/><circle cx="977.2" cy="1046.2" r="7.1"/><circle cx="983.6" cy="1024.2" r="7.1"/><circle cx="982.0" cy="1029.4" r="7.1"/><circle cx="982.9" cy="1036.7" r="7.1"/><circle cx="979.6" cy="1040.1" r="7.1"/><circle cx="980.2" cy="1046.1" r="7.1"/><circle cx="987.7" cy="1023.5" r="7.1"/><circle cx="988.5" cy="1028.2" r="7.1"/><circle cx="987.6" cy="1036.4" r="7.1"/><circle cx="989.8" cy="1042.1" r="7.1"/><circle cx="985.9" cy="1047.4" r="7.1"/><circle cx="994.0" cy="1025.6" r="7.1"/><circle cx="995.2" cy="1029.8" r="7.1"/><circle cx="994.1" cy="1033.9" r="7.1"/><circle cx="992.2" cy="1043.1" r="7.1"/><circle cx="991.1" cy="1047.1" r="7.1"/><circle cx="998.2" cy="1023.5" r="7.1"/><circle cx="999.7" cy="1031.4" r="7.1"/><circle cx="996.3" cy="1036.4" r="7.1"/><circle cx="999.6" cy="1041.7" r="7.1"/><circle cx="1000.1" cy="1047.7" r="7.1"/><circle cx="1004.0" cy="1024.2" r="7.1"/><circle cx="1005.0" cy="1031.6" r="7.1"/><circle cx="1004.1" cy="1036.0" r="7.1"/><circle cx="1003.4" cy="1040.0" r="7.1"/><circle cx="1005.3" cy="1049.2" r="7.1"/><circle cx="1009.2" cy="1023.9" r="7.1"/><circle cx="1009.5" cy="1030.5" r="7.1"/><circle cx="1008.3" cy="1038.9" r="7.1"/><circle cx="1008.4" cy="1043.7" r="7.1"/><circle cx="1010.6" cy="1046.5" r="7.1"/><circle cx="1014.8" cy="1024.6" r="7.1"/><circle cx="1017.2" cy="1033.5" r="7.1"/><circle cx="1012.7" cy="1036.6" r="7.1"/><circle cx="1015.2" cy="1044.7" r="7.1"/><circle cx="1015.9" cy="1046.7" r="7.1"/><circle cx="1018.3" cy="1025.7" r="7.1"/><circle cx="1019.6" cy="1030.1" r="7.1"/><circle cx="1022.5" cy="1037.9" r="7.1"/><circle cx="1020.2" cy="1041.4" r="7.1"/><circle cx="1020.1" cy="1047.9" r="7.1"/><circle cx="1025.0" cy="1026.3" r="7.1"/><circle cx="1025.0" cy="1032.2" r="7.1"/><circle cx="1025.2" cy="1038.1" r="7.1"/><circle cx="1027.6" cy="1043.3" r="7.1"/><circle cx="1031.9" cy="1027.7" r="7.1"/><circle cx="1029.8" cy="1031.6" r="7.1"/><circle cx="1029.1" cy="1039.1" r="7.1"/><circle cx="1031.4" cy="1044.3" r="7.1"/><circle cx="1035.1" cy="1028.1" r="7.1"/><circle cx="1038.8" cy="1032.6" r="7.1"/><circle cx="1038.8" cy="1037.6" r="7.1"/><circle cx="1036.7" cy="1044.8" r="7.1"/><circle cx="1043.6" cy="1029.7" r="7.1"/><circle cx="1042.6" cy="1034.0" r="7.1"/><circle cx="1042.9" cy="1037.9" r="7.1"/><circle cx="1044.9" cy="1044.1" r="7.1"/><circle cx="1046.0" cy="1027.8" r="7.1"/><circle cx="1046.7" cy="1034.4" r="7.1"/><circle cx="1049.1" cy="1037.4" r="7.1"/><circle cx="1049.4" cy="1041.7" r="7.1"/><circle cx="1053.6" cy="1026.5" r="7.1"/><circle cx="1053.8" cy="1034.4" r="7.1"/><circle cx="1051.4" cy="1037.4" r="7.1"/><circle cx="1053.0" cy="1045.5" r="7.1"/><circle cx="1058.3" cy="1028.4" r="7.1"/><circle cx="1059.5" cy="1034.2" r="7.1"/><circle cx="1059.8" cy="1037.2" r="7.1"/><circle cx="1059.2" cy="1046.6" r="7.1"/><circle cx="1063.1" cy="1029.4" r="7.1"/><circle cx="1063.9" cy="1034.7" r="7.1"/><circle cx="1065.4" cy="1037.8" r="7.1"/><circle cx="1066.5" cy="1044.4" r="7.1"/><circle cx="1072.4" cy="1027.7" r="7.1"/><circle cx="1068.7" cy="1033.9" r="7.1"/><circle cx="1068.7" cy="1040.6" r="7.1"/><circle cx="1070.6" cy="1044.5" r="7.1"/><circle cx="1074.3" cy="1028.6" r="7.1"/><circle cx="1073.1" cy="1036.0" r="7.1"/><circle cx="1074.5" cy="1041.9" r="7.1"/><circle cx="1075.7" cy="1043.4" r="7.1"/><circle cx="1082.9" cy="1030.6" r="7.1"/><circle cx="1083.1" cy="1033.1" r="7.1"/><circle cx="1079.2" cy="1040.7" r="7.1"/><circle cx="1080.4" cy="1046.5" r="7.1"/><circle cx="1087.0" cy="1028.8" r="7.1"/><circle cx="1087.9" cy="1033.1" r="7.1"/><circle cx="1087.8" cy="1039.9" r="7.1"/><circle cx="1085.0" cy="1043.9" r="7.1"/><circle cx="1091.4" cy="1029.8" r="7.1"/><circle cx="1090.8" cy="1033.3" r="7.1"/><circle cx="1091.7" cy="1038.7" r="7.1"/><circle cx="1090.3" cy="1044.6" r="7.1"/><circle cx="1097.8" cy="1031.1" r="7.1"/><circle cx="1099.6" cy="1036.2" r="7.1"/><circle cx="1097.1" cy="1040.4" r="7.1"/><circle cx="1096.3" cy="1048.0" r="7.1"/><circle cx="1105.0" cy="1031.5" r="7.1"/><circle cx="1101.2" cy="1035.0" r="7.1"/><circle cx="1102.1" cy="1039.6" r="7.1"/><circle cx="1103.2" cy="1046.6" r="7.1"/><circle cx="1107.3" cy="1030.7" r="7.1"/><circle cx="1109.9" cy="1037.4" r="7.1"/><circle cx="1106.7" cy="1041.4" r="7.1"/><circle cx="1106.5" cy="1047.6" r="7.1"/><circle cx="1112.9" cy="1029.0" r="7.1"/><circle cx="1116.1" cy="1035.0" r="7.1"/><circle cx="1112.6" cy="1041.0" r="7.1"/><circle cx="1113.0" cy="1047.2" r="7.1"/><circle cx="1117.2" cy="1028.5" r="7.1"/><circle cx="1117.8" cy="1036.1" r="7.1"/><circle cx="1120.1" cy="1043.3" r="7.1"/><circle cx="1120.8" cy="1045.0" r="7.1"/><circle cx="1127.1" cy="1031.0" r="7.1"/><circle cx="1125.2" cy="1035.7" r="7.1"/><circle cx="1124.9" cy="1042.6" r="7.1"/><circle cx="1126.9" cy="1047.1" r="7.1"/><circle cx="1129.9" cy="1028.3" r="7.1"/><circle cx="1130.7" cy="1037.6" r="7.1"/><circle cx="1128.1" cy="1042.8" r="7.1"/><circle cx="1132.2" cy="1047.5" r="7.1"/><circle cx="1136.1" cy="1032.2" r="7.1"/><circle cx="1138.3" cy="1034.2" r="7.1"/><circle cx="1136.5" cy="1042.8" r="7.1"/><circle cx="1138.1" cy="1045.9" r="7.1"/><circle cx="1141.7" cy="1030.3" r="7.1"/><circle cx="1141.0" cy="1038.4" r="7.1"/><circle cx="1142.5" cy="1042.4" r="7.1"/><circle cx="1143.5" cy="1046.3" r="7.1"/><circle cx="1145.5" cy="1032.2" r="7.1"/><circle cx="1146.3" cy="1034.8" r="7.1"/><circle cx="1146.2" cy="1042.5" r="7.1"/><circle cx="1144.5" cy="1045.5" r="7.1"/><circle cx="1154.3" cy="1029.3" r="7.1"/><circle cx="1152.1" cy="1038.5" r="7.1"/><circle cx="1154.8" cy="1040.4" r="7.1"/><circle cx="1150.3" cy="1048.4" r="7.1"/><circle cx="1159.1" cy="1033.6" r="7.1"/><circle cx="1160.3" cy="1039.0" r="7.1"/><circle cx="1159.3" cy="1044.6" r="7.1"/><circle cx="1157.5" cy="1049.4" r="7.1"/><circle cx="1165.6" cy="1031.4" r="7.1"/><circle cx="1161.9" cy="1036.1" r="7.1"/><circle cx="1162.3" cy="1044.7" r="7.1"/><circle cx="1163.8" cy="1047.2" r="7.1"/><circle cx="1167.1" cy="1033.5" r="7.1"/><circle cx="1171.3" cy="1036.3" r="7.1"/><circle cx="1168.7" cy="1042.2" r="7.1"/><circle cx="1170.6" cy="1049.3" r="7.1"/><circle cx="1172.6" cy="1030.5" r="7.1"/><circle cx="1173.0" cy="1037.9" r="7.1"/><circle cx="1173.1" cy="1044.9" r="7.1"/><circle cx="1177.5" cy="1029.8" r="7.1"/><circle cx="1177.7" cy="1038.0" r="7.1"/><circle cx="1179.8" cy="1043.8" r="7.1"/><circle cx="1184.1" cy="1034.0" r="7.1"/><circle cx="1187.1" cy="1040.0" r="7.1"/><circle cx="1184.8" cy="1043.6" r="7.1"/><circle cx="1192.4" cy="1030.8" r="7.1"/><circle cx="1190.8" cy="1038.2" r="7.1"/><circle cx="1190.2" cy="1041.0" r="7.1"/><circle cx="1198.4" cy="1030.6" r="7.1"/><circle cx="1197.0" cy="1039.8" r="7.1"/><circle cx="1197.0" cy="1045.8" r="7.1"/><circle cx="1202.3" cy="1031.9" r="7.1"/><circle cx="1203.1" cy="1039.1" r="7.1"/><circle cx="1201.4" cy="1044.8" r="7.1"/><circle cx="1206.2" cy="1030.8" r="7.1"/><circle cx="1205.9" cy="1037.2" r="7.1"/><circle cx="1206.9" cy="1043.4" r="7.1"/><circle cx="1213.1" cy="1033.2" r="7.1"/><circle cx="1213.2" cy="1040.0" r="7.1"/><circle cx="1213.1" cy="1043.2" r="7.1"/><circle cx="1217.1" cy="1031.0" r="7.1"/><circle cx="1216.2" cy="1038.1" r="7.1"/><circle cx="1216.6" cy="1045.3" r="7.1"/><circle cx="1224.6" cy="1032.8" r="7.1"/><circle cx="1224.9" cy="1036.8" r="7.1"/><circle cx="1222.8" cy="1045.4" r="7.1"/><circle cx="1228.1" cy="1031.0" r="7.1"/><circle cx="1227.6" cy="1037.5" r="7.1"/><circle cx="1227.3" cy="1043.8" r="7.1"/><circle cx="1235.9" cy="1034.8" r="7.1"/><circle cx="1234.1" cy="1036.8" r="7.1"/><circle cx="1232.5" cy="1043.2" r="7.1"/><circle cx="1242.5" cy="1031.5" r="7.1"/><circle cx="1242.4" cy="1039.4" r="7.1"/><circle cx="1238.4" cy="1042.3" r="7.1"/><circle cx="1246.6" cy="1031.4" r="7.1"/><circle cx="1247.6" cy="1036.7" r="7.1"/><circle cx="1245.6" cy="1045.2" r="7.1"/><circle cx="1252.4" cy="1033.4" r="7.1"/><circle cx="1252.1" cy="1039.0" r="7.1"/><circle cx="1251.6" cy="1045.2" r="7.1"/><circle cx="1256.9" cy="1033.8" r="7.1"/><circle cx="1257.5" cy="1041.8" r="7.1"/><circle cx="1257.0" cy="1047.2" r="7.1"/><circle cx="1262.8" cy="1033.0" r="7.1"/><circle cx="1262.1" cy="1039.1" r="7.1"/><circle cx="1261.3" cy="1044.9" r="7.1"/><circle cx="1266.0" cy="1034.9" r="7.1"/><circle cx="1266.5" cy="1038.3" r="7.1"/><circle cx="1267.9" cy="1046.0" r="7.1"/><circle cx="1273.9" cy="1034.7" r="7.1"/><circle cx="1271.3" cy="1039.7" r="7.1"/><circle cx="1274.5" cy="1044.9" r="7.1"/><circle cx="1277.2" cy="1035.0" r="7.1"/><circle cx="1278.5" cy="1037.8" r="7.1"/><circle cx="1280.0" cy="1046.7" r="7.1"/><circle cx="1286.4" cy="1033.9" r="7.1"/><circle cx="1283.0" cy="1041.9" r="7.1"/><circle cx="1282.5" cy="1044.4" r="7.1"/><circle cx="1289.9" cy="1032.2" r="7.1"/><circle cx="1290.2" cy="1038.9" r="7.1"/><circle cx="1290.4" cy="1047.7" r="7.1"/><circle cx="1297.3" cy="1036.5" r="7.1"/><circle cx="1293.3" cy="1039.2" r="7.1"/><circle cx="1295.1" cy="1044.3" r="7.1"/><circle cx="1302.8" cy="1035.6" r="7.1"/><circle cx="1300.9" cy="1042.1" r="7.1"/><circle cx="1301.6" cy="1044.5" r="7.1"/><circle cx="1308.0" cy="1037.1" r="7.1"/><circle cx="1306.5" cy="1039.5" r="7.1"/><circle cx="1308.7" cy="1048.2" r="7.1"/><circle cx="1314.0" cy="1035.0" r="7.1"/><circle cx="1314.0" cy="1040.2" r="7.1"/><circle cx="1313.5" cy="1044.9" r="7.1"/><circle cx="1318.4" cy="1033.5" r="7.1"/><circle cx="1316.0" cy="1038.7" r="7.1"/><circle cx="1320.0" cy="1047.7" r="7.1"/><circle cx="1324.2" cy="1036.2" r="7.1"/><circle cx="1323.1" cy="1038.9" r="7.1"/><circle cx="1322.2" cy="1045.5" r="7.1"/><circle cx="1327.2" cy="1034.1" r="7.1"/><circle cx="1329.9" cy="1043.0" r="7.1"/><circle cx="1327.0" cy="1046.3" r="7.1"/><circle cx="1335.5" cy="1034.1" r="7.1"/><circle cx="1334.4" cy="1038.6" r="7.1"/><circle cx="1335.2" cy="1047.3" r="7.1"/><circle cx="1339.9" cy="1035.7" r="7.1"/><circle cx="1337.4" cy="1042.3" r="7.1"/><circle cx="1339.2" cy="1047.9" r="7.1"/><circle cx="1345.9" cy="1037.2" r="7.1"/><circle cx="1342.7" cy="1043.4" r="7.1"/><circle cx="1346.4" cy="1047.8" r="7.1"/><circle cx="1350.9" cy="1033.7" r="7.1"/><circle cx="1349.7" cy="1040.6" r="7.1"/><circle cx="1352.0" cy="1047.4" r="7.1"/><circle cx="1357.2" cy="1034.2" r="7.1"/><circle cx="1356.5" cy="1042.6" r="7.1"/><circle cx="1358.4" cy="1047.8" r="7.1"/><circle cx="1361.9" cy="1036.2" r="7.1"/><circle cx="1360.5" cy="1042.8" r="7.1"/><circle cx="1363.8" cy="1047.8" r="7.1"/><circle cx="1366.5" cy="1037.0" r="7.1"/><circle cx="1369.2" cy="1042.7" r="7.1"/><circle cx="1365.9" cy="1044.7" r="7.1"/><circle cx="1372.1" cy="1035.5" r="7.1"/><circle cx="1372.5" cy="1043.5" r="7.1"/><circle cx="1373.7" cy="1048.3" r="7.1"/><circle cx="1378.5" cy="1034.8" r="7.1"/><circle cx="1378.4" cy="1043.9" r="7.1"/><circle cx="1377.3" cy="1049.1" r="7.1"/><circle cx="1382.7" cy="1036.9" r="7.1"/><circle cx="1382.0" cy="1043.5" r="7.1"/><circle cx="1385.0" cy="1045.7" r="7.1"/><circle cx="1387.7" cy="1037.7" r="7.1"/><circle cx="1388.5" cy="1041.1" r="7.1"/><circle cx="1387.6" cy="1048.2" r="7.1"/><circle cx="1392.5" cy="1035.7" r="7.1"/><circle cx="1396.9" cy="1041.2" r="7.1"/><circle cx="1396.8" cy="1048.4" r="7.1"/><circle cx="1399.5" cy="1035.0" r="7.1"/><circle cx="1399.9" cy="1042.5" r="7.1"/><circle cx="1399.9" cy="1045.7" r="7.1"/><circle cx="1404.7" cy="1037.2" r="7.1"/><circle cx="1405.0" cy="1041.3" r="7.1"/><circle cx="1404.1" cy="1048.0" r="7.1"/><circle cx="1409.2" cy="1038.8" r="7.1"/><circle cx="1410.3" cy="1042.2" r="7.1"/><circle cx="1410.2" cy="1046.8" r="7.1"/><circle cx="1416.4" cy="1036.2" r="7.1"/><circle cx="1414.6" cy="1041.9" r="7.1"/><circle cx="1414.9" cy="1047.7" r="7.1"/><circle cx="1422.1" cy="1036.6" r="7.1"/><circle cx="1421.6" cy="1044.5" r="7.1"/><circle cx="1419.6" cy="1048.0" r="7.1"/><circle cx="1426.9" cy="1036.2" r="7.1"/><circle cx="1426.2" cy="1043.6" r="7.1"/><circle cx="1426.4" cy="1048.0" r="7.1"/><circle cx="1431.2" cy="1037.9" r="7.1"/><circle cx="1435.4" cy="1044.3" r="7.1"/><circle cx="1431.8" cy="1045.8" r="7.1"/><circle cx="1436.6" cy="1037.8" r="7.1"/><circle cx="1439.5" cy="1040.1" r="7.1"/><circle cx="1440.3" cy="1047.9" r="7.1"/><circle cx="1446.3" cy="1038.3" r="7.1"/><circle cx="1445.0" cy="1041.8" r="7.1"/><circle cx="1443.1" cy="1046.5" r="7.1"/><circle cx="1448.4" cy="1035.4" r="7.1"/><circle cx="1448.9" cy="1042.8" r="7.1"/><circle cx="1450.4" cy="1046.3" r="7.1"/><circle cx="1457.1" cy="1038.7" r="7.1"/><circle cx="1456.6" cy="1043.2" r="7.1"/><circle cx="1454.4" cy="1049.0" r="7.1"/><circle cx="1462.7" cy="1038.5" r="7.1"/><circle cx="1462.9" cy="1041.8" r="7.1"/><circle cx="1466.0" cy="1036.9" r="7.1"/><circle cx="1466.7" cy="1044.1" r="7.1"/><circle cx="1469.1" cy="1036.3" r="7.1"/><circle cx="1470.4" cy="1041.7" r="7.1"/><circle cx="1477.8" cy="1035.0" r="7.1"/><circle cx="1476.4" cy="1043.5" r="7.1"/><circle cx="1480.3" cy="1035.3" r="7.1"/><circle cx="1481.4" cy="1043.3" r="7.1"/><circle cx="1481.4" cy="1048.5" r="7.1"/><circle cx="1488.4" cy="1035.5" r="7.1"/><circle cx="1485.5" cy="1045.0" r="7.1"/><circle cx="1488.3" cy="1046.9" r="7.1"/><circle cx="1492.3" cy="1038.2" r="7.1"/><circle cx="1495.2" cy="1045.4" r="7.1"/><circle cx="1499.2" cy="1036.9" r="7.1"/><circle cx="1499.0" cy="1045.4" r="7.1"/><circle cx="1505.7" cy="1036.8" r="7.1"/><circle cx="1503.3" cy="1044.2" r="7.1"/><circle cx="1509.1" cy="1037.4" r="7.1"/><circle cx="1508.0" cy="1045.2" r="7.1"/><circle cx="1515.0" cy="1038.6" r="7.1"/><circle cx="1517.6" cy="1041.8" r="7.1"/><circle cx="1520.7" cy="1038.2" r="7.1"/><circle cx="1519.0" cy="1043.3" r="7.1"/><circle cx="1527.9" cy="1039.0" r="7.1"/><circle cx="1524.7" cy="1042.9" r="7.1"/><circle cx="1529.7" cy="1039.2" r="7.1"/><circle cx="1532.3" cy="1042.2" r="7.1"/><circle cx="1539.7" cy="1038.5" r="7.1"/><circle cx="1538.0" cy="1043.8" r="7.1"/><circle cx="1540.8" cy="1037.4" r="7.1"/><circle cx="1543.5" cy="1043.0" r="7.1"/><circle cx="1547.2" cy="1036.9" r="7.1"/><circle cx="1549.6" cy="1043.2" r="7.1"/><circle cx="1555.2" cy="1036.4" r="7.1"/><circle cx="1552.6" cy="1045.1" r="7.1"/><circle cx="1561.6" cy="1039.9" r="7.1"/><circle cx="1557.8" cy="1045.7" r="7.1"/><circle cx="1564.0" cy="1039.7" r="7.1"/><circle cx="1563.7" cy="1044.6" r="7.1"/><circle cx="1568.7" cy="1040.0" r="7.1"/><circle cx="1569.2" cy="1043.4" r="7.1"/><circle cx="1575.4" cy="1037.1" r="7.1"/><circle cx="1578.2" cy="1041.8" r="7.1"/><circle cx="1581.4" cy="1040.8" r="7.1"/><circle cx="1579.1" cy="1044.6" r="7.1"/><circle cx="1585.5" cy="1036.6" r="7.1"/><circle cx="1589.4" cy="1046.2" r="7.1"/><circle cx="1594.5" cy="1039.4" r="7.1"/><circle cx="1594.5" cy="1042.8" r="7.1"/><circle cx="1596.2" cy="1040.5" r="7.1"/><circle cx="1598.1" cy="1042.4" r="7.1"/><circle cx="1604.8" cy="1038.8" r="7.1"/><circle cx="1603.7" cy="1046.1" r="7.1"/><circle cx="1610.2" cy="1039.1" r="7.1"/><circle cx="1608.2" cy="1043.9" r="7.1"/><circle cx="1613.3" cy="1038.0" r="7.1"/><circle cx="1615.2" cy="1044.1" r="7.1"/><circle cx="1621.3" cy="1038.3" r="7.1"/><circle cx="1619.4" cy="1042.4" r="7.1"/><circle cx="1627.0" cy="1041.1" r="7.1"/><circle cx="1623.8" cy="1043.9" r="7.1"/><circle cx="1628.5" cy="1038.0" r="7.1"/><circle cx="1629.4" cy="1043.2" r="7.1"/><circle cx="1634.4" cy="1040.7" r="7.1"/><circle cx="1634.9" cy="1042.4" r="7.1"/><circle cx="1641.3" cy="1038.9" r="7.1"/><circle cx="1641.3" cy="1044.4" r="7.1"/><circle cx="1647.5" cy="1040.6" r="7.1"/><circle cx="1645.7" cy="1045.1" r="7.1"/><circle cx="1651.2" cy="1036.6" r="7.1"/><circle cx="1651.4" cy="1043.4" r="7.1"/><circle cx="1660.5" cy="1037.3" r="7.1"/><circle cx="1660.0" cy="1044.3" r="7.1"/><circle cx="1663.2" cy="1040.6" r="7.1"/><circle cx="1661.9" cy="1045.6" r="7.1"/><circle cx="1669.4" cy="1037.5" r="7.1"/><circle cx="1670.3" cy="1045.8" r="7.1"/><circle cx="1672.8" cy="1038.9" r="7.1"/><circle cx="1675.3" cy="1045.2" r="7.1"/><circle cx="1681.2" cy="1041.4" r="7.1"/><circle cx="1681.7" cy="1046.2" r="7.1"/><circle cx="1684.8" cy="1040.2" r="7.1"/><circle cx="1687.8" cy="1046.1" r="7.1"/><circle cx="1689.9" cy="1040.0" r="7.1"/><circle cx="1691.5" cy="1043.6" r="7.1"/><circle cx="1697.8" cy="1039.9" r="7.1"/><circle cx="1694.8" cy="1046.7" r="7.1"/><circle cx="1704.5" cy="1039.9" r="7.1"/><circle cx="1704.4" cy="1046.0" r="7.1"/><circle cx="1705.7" cy="1037.0" r="7.1"/><circle cx="1709.7" cy="1044.3" r="7.1"/><circle cx="1713.2" cy="1041.1" r="7.1"/><circle cx="1711.7" cy="1043.4" r="7.1"/><circle cx="1720.2" cy="1038.2" r="7.1"/><circle cx="1718.6" cy="1043.4" r="7.1"/><circle cx="1722.7" cy="1041.3" r="7.1"/><circle cx="1724.1" cy="1044.3" r="7.1"/><circle cx="1728.6" cy="1041.9" r="7.1"/><circle cx="1729.6" cy="1046.8" r="7.1"/><circle cx="1737.3" cy="1040.6" r="7.1"/><circle cx="1735.6" cy="1046.1" r="7.1"/><circle cx="1743.3" cy="1037.9" r="7.1"/><circle cx="1742.3" cy="1044.7" r="7.1"/><circle cx="1745.4" cy="1039.0" r="7.1"/><circle cx="1748.8" cy="1043.8" r="7.1"/><circle cx="1752.8" cy="1041.7" r="7.1"/><circle cx="1752.8" cy="1047.0" r="7.1"/><circle cx="1758.5" cy="1041.3" r="7.1"/><circle cx="1757.8" cy="1043.6" r="7.1"/><circle cx="1765.4" cy="1041.9" r="7.1"/><circle cx="1762.0" cy="1043.9" r="7.1"/><circle cx="1766.9" cy="1041.0" r="7.1"/><circle cx="1767.7" cy="1047.5" r="7.1"/><circle cx="1774.4" cy="1038.6" r="7.1"/><circle cx="1771.9" cy="1046.1" r="7.1"/><circle cx="1781.8" cy="1038.9" r="7.1"/><circle cx="1777.2" cy="1047.4" r="7.1"/><circle cx="1787.1" cy="1041.0" r="7.1"/><circle cx="1786.2" cy="1044.7" r="7.1"/><circle cx="1792.4" cy="1040.6" r="7.1"/><circle cx="1788.4" cy="1046.1" r="7.1"/><circle cx="1794.7" cy="1037.6" r="7.1"/><circle cx="1797.2" cy="1044.2" r="7.1"/><circle cx="1800.4" cy="1041.4" r="7.1"/><circle cx="1802.2" cy="1045.9" r="7.1"/><circle cx="1808.6" cy="1042.0" r="7.1"/><circle cx="1805.5" cy="1043.4" r="7.1"/><circle cx="724.4" cy="612.0" r="7.1"/><circle cx="721.8" cy="616.5" r="7.1"/><circle cx="721.6" cy="621.0" r="7.1"/><circle cx="722.6" cy="625.5" r="7.1"/><circle cx="720.6" cy="630.0" r="7.1"/><circle cx="723.7" cy="634.5" r="7.1"/><circle cx="723.6" cy="639.0" r="7.1"/><circle cx="721.7" cy="643.5" r="7.1"/><circle cx="720.6" cy="648.0" r="7.1"/><circle cx="724.1" cy="652.5" r="7.1"/><circle cx="723.7" cy="657.0" r="7.1"/><circle cx="723.6" cy="661.5" r="7.1"/><circle cx="721.3" cy="666.0" r="7.1"/><circle cx="724.3" cy="670.5" r="7.1"/><circle cx="723.1" cy="675.0" r="7.1"/><circle cx="720.6" cy="679.5" r="7.1"/><circle cx="724.4" cy="684.0" r="7.1"/><circle cx="723.3" cy="688.5" r="7.1"/><circle cx="721.2" cy="693.0" r="7.1"/><circle cx="724.1" cy="697.5" r="7.1"/><circle cx="722.9" cy="702.0" r="7.1"/><circle cx="723.0" cy="704.6" r="7.1"/><circle cx="720.6" cy="707.2" r="7.1"/><circle cx="721.4" cy="709.8" r="7.1"/><circle cx="723.7" cy="712.4" r="7.1"/><circle cx="720.6" cy="715.0" r="7.1"/><circle cx="721.3" cy="717.6" r="7.1"/><circle cx="720.8" cy="720.2" r="7.1"/><circle cx="722.8" cy="722.8" r="7.1"/><circle cx="721.1" cy="725.4" r="7.1"/><circle cx="723.6" cy="728.0" r="7.1"/><circle cx="722.3" cy="730.6" r="7.1"/><circle cx="723.6" cy="733.2" r="7.1"/><circle cx="724.2" cy="735.8" r="7.1"/><circle cx="724.4" cy="738.4" r="7.1"/><circle cx="721.3" cy="741.0" r="7.1"/><circle cx="722.0" cy="743.6" r="7.1"/><circle cx="723.7" cy="746.2" r="7.1"/><circle cx="721.8" cy="748.8" r="7.1"/><circle cx="724.3" cy="751.4" r="7.1"/><circle cx="721.8" cy="754.0" r="7.1"/><circle cx="723.0" cy="756.6" r="7.1"/><circle cx="721.5" cy="759.2" r="7.1"/><circle cx="723.4" cy="761.8" r="7.1"/><circle cx="721.6" cy="764.4" r="7.1"/><circle cx="722.2" cy="767.0" r="7.1"/><circle cx="723.4" cy="769.6" r="7.1"/><circle cx="723.8" cy="772.2" r="7.1"/><circle cx="721.1" cy="774.8" r="7.1"/><circle cx="721.2" cy="777.4" r="7.1"/><circle cx="721.3" cy="780.0" r="7.1"/><circle cx="723.6" cy="782.6" r="7.1"/><circle cx="723.2" cy="785.2" r="7.1"/><circle cx="723.4" cy="787.8" r="7.1"/><circle cx="723.7" cy="790.4" r="7.1"/><circle cx="721.4" cy="793.0" r="7.1"/><circle cx="722.5" cy="795.6" r="7.1"/><circle cx="720.5" cy="798.2" r="7.1"/><circle cx="721.9" cy="800.8" r="7.1"/><circle cx="722.9" cy="803.4" r="7.1"/><circle cx="721.5" cy="806.0" r="7.1"/><circle cx="723.7" cy="808.6" r="7.1"/><circle cx="721.3" cy="811.2" r="7.1"/><circle cx="722.3" cy="813.8" r="7.1"/><circle cx="723.2" cy="816.4" r="7.1"/><circle cx="721.4" cy="819.0" r="7.1"/><circle cx="723.2" cy="821.6" r="7.1"/><circle cx="722.1" cy="824.2" r="7.1"/><circle cx="720.7" cy="826.8" r="7.1"/><circle cx="720.9" cy="829.4" r="7.1"/><circle cx="723.1" cy="832.0" r="7.1"/><circle cx="723.8" cy="834.6" r="7.1"/><circle cx="723.2" cy="837.2" r="7.1"/><circle cx="724.0" cy="839.8" r="7.1"/><circle cx="723.2" cy="842.4" r="7.1"/><circle cx="723.6" cy="845.0" r="7.1"/><circle cx="723.9" cy="847.6" r="7.1"/><circle cx="722.9" cy="850.2" r="7.1"/><circle cx="722.6" cy="852.8" r="7.1"/><circle cx="721.1" cy="855.4" r="7.1"/><circle cx="721.4" cy="858.0" r="7.1"/><circle cx="720.8" cy="860.6" r="7.1"/><circle cx="720.9" cy="863.2" r="7.1"/><circle cx="722.1" cy="865.8" r="7.1"/><circle cx="721.7" cy="868.4" r="7.1"/><circle cx="722.8" cy="871.0" r="7.1"/><circle cx="723.8" cy="873.6" r="7.1"/><circle cx="721.6" cy="876.2" r="7.1"/><circle cx="724.1" cy="878.8" r="7.1"/><circle cx="723.8" cy="881.4" r="7.1"/><circle cx="721.3" cy="884.0" r="7.1"/><circle cx="722.9" cy="886.6" r="7.1"/><circle cx="721.3" cy="889.2" r="7.1"/><circle cx="720.8" cy="891.8" r="7.1"/><circle cx="721.4" cy="894.4" r="7.1"/><circle cx="721.3" cy="897.0" r="7.1"/><circle cx="720.5" cy="899.6" r="7.1"/><circle cx="720.6" cy="902.2" r="7.1"/><circle cx="723.7" cy="904.8" r="7.1"/><circle cx="724.0" cy="907.4" r="7.1"/><circle cx="724.0" cy="910.0" r="7.1"/><circle cx="720.8" cy="912.6" r="7.1"/><circle cx="720.6" cy="915.2" r="7.1"/><circle cx="723.9" cy="917.8" r="7.1"/><circle cx="722.0" cy="920.4" r="7.1"/><circle cx="721.9" cy="923.0" r="7.1"/><circle cx="723.3" cy="925.6" r="7.1"/><circle cx="722.6" cy="928.2" r="7.1"/><circle cx="721.8" cy="930.8" r="7.1"/><circle cx="721.1" cy="933.4" r="7.1"/><circle cx="721.0" cy="936.0" r="7.1"/><circle cx="723.3" cy="938.6" r="7.1"/><circle cx="724.1" cy="941.2" r="7.1"/><circle cx="720.7" cy="943.8" r="7.1"/><circle cx="721.4" cy="946.4" r="7.1"/><circle cx="722.6" cy="949.0" r="7.1"/><circle cx="721.6" cy="951.6" r="7.1"/><circle cx="722.5" cy="954.2" r="7.1"/><circle cx="722.5" cy="956.8" r="7.1"/><circle cx="721.6" cy="959.4" r="7.1"/><circle cx="721.0" cy="962.0" r="7.1"/><circle cx="722.2" cy="964.6" r="7.1"/><circle cx="723.7" cy="967.2" r="7.1"/><circle cx="721.1" cy="969.8" r="7.1"/><circle cx="722.7" cy="972.4" r="7.1"/><circle cx="723.7" cy="975.0" r="7.1"/><circle cx="722.8" cy="977.6" r="7.1"/><circle cx="721.9" cy="980.2" r="7.1"/><circle cx="724.2" cy="982.8" r="7.1"/><circle cx="723.6" cy="985.4" r="7.1"/><circle cx="724.5" cy="988.0" r="7.1"/><circle cx="721.7" cy="990.6" r="7.1"/><circle cx="722.4" cy="993.2" r="7.1"/><circle cx="722.3" cy="995.8" r="7.1"/><circle cx="723.9" cy="998.4" r="7.1"/>
</g>
<polygon fill="#ff0000" points="719.4,762.7 728.4,762.7 728.5,766.0 728.5,770.4 728.6,775.6 728.7,781.3 728.9,787.4 729.0,793.6 729.1,799.6 729.3,805.2 729.5,810.6 729.6,816.0 729.8,821.5 730.0,827.0 730.2,832.4 730.4,837.5 730.7,842.4 731.0,847.0 731.3,851.2 731.7,855.0 732.1,858.5 732.5,861.8 733.0,865.1 733.4,868.3 734.0,871.5 734.5,874.9 735.1,878.4 735.7,882.0 736.4,885.6 737.1,889.2 737.8,892.8 738.5,896.2 739.3,899.6 740.0,902.7 740.7,905.7 741.4,908.4 742.2,911.1 742.9,913.6 743.6,916.1 744.5,918.6 745.3,921.1 746.3,923.7 747.3,926.4 748.5,929.1 749.7,931.8 750.9,934.5 752.2,937.2 753.5,939.8 754.8,942.3 756.1,944.6 757.4,946.8 758.7,948.9 760.1,950.9 761.5,952.8 762.9,954.6 764.3,956.4 765.7,958.2 767.2,959.9 768.7,961.6 770.2,963.3 771.7,964.8 773.2,966.4 774.8,967.9 776.4,969.4 778.1,970.9 779.8,972.4 781.5,973.9 783.3,975.3 785.1,976.8 786.9,978.2 788.8,979.6 790.8,980.9 792.9,982.3 795.1,983.6 797.4,984.9 799.8,986.2 802.2,987.4 804.8,988.6 807.4,989.8 810.2,991.0 813.0,992.2 816.0,993.3 819.2,994.4 822.5,995.6 826.0,996.7 829.5,997.8 833.1,998.8 836.8,999.8 840.4,1000.8 843.9,1001.7 847.3,1002.5 850.7,1003.3 854.1,1004.0 857.5,1004.7 860.9,1005.4 864.4,1006.0 868.0,1006.7 871.7,1007.3 875.6,1008.0 879.8,1008.6 884.1,1009.3 888.5,1010.0 892.8,1010.6 897.0,1011.2 900.9,1011.7 904.5,1012.2 907.6,1012.6 910.1,1012.8 912.2,1013.0 914.3,1013.2 916.5,1013.4 919.1,1013.6 922.2,1013.8 926.2,1014.1 931.0,1014.5 936.4,1014.9 942.3,1015.4 948.6,1015.9 955.2,1016.4 961.9,1016.9 968.7,1017.4 975.4,1017.9 982.0,1018.3 988.7,1018.7 995.4,1019.1 1002.3,1019.5 1009.4,1019.9 1016.6,1020.3 1024.2,1020.7 1032.1,1021.1 1040.3,1021.5 1048.8,1021.9 1057.6,1022.3 1066.7,1022.7 1075.9,1023.2 1085.3,1023.5 1094.8,1023.9 1104.5,1024.3 1113.9,1024.6 1122.8,1025.0 1131.6,1025.3 1140.7,1025.5 1150.5,1025.8 1161.3,1026.1 1173.5,1026.5 1187.5,1026.8 1203.6,1027.2 1221.5,1027.6 1240.8,1028.0 1261.2,1028.5 1282.2,1028.9 1303.3,1029.3 1324.2,1029.7 1344.5,1030.1 1364.4,1030.4 1384.5,1030.7 1404.6,1031.0 1424.8,1031.2 1445.0,1031.5 1465.0,1031.7 1484.9,1031.9 1504.5,1032.1 1523.8,1032.3 1542.7,1032.5 1561.4,1032.7 1580.0,1032.9 1598.7,1033.0 1617.6,1033.2 1636.8,1033.3 1656.5,1033.5 1676.4,1033.6 1696.4,1033.8 1716.4,1033.9 1736.8,1034.0 1757.6,1034.2 1779.1,1034.3 1801.3,1034.4 1824.5,1034.5 1850.3,1034.6 1879.3,1034.7 1909.9,1034.8 1940.8,1034.9 1970.3,1034.9 1997.0,1035.0 2019.4,1035.1 2036.0,1035.1 2036.0,1044.1 2027.0,1044.1 2010.4,1044.1 1988.0,1044.0 1961.3,1043.9 1931.8,1043.9 1900.9,1043.8 1870.3,1043.7 1841.3,1043.6 1815.5,1043.5 1792.3,1043.4 1770.1,1043.3 1748.6,1043.2 1727.8,1043.0 1707.4,1042.9 1687.4,1042.8 1667.4,1042.6 1647.5,1042.5 1627.8,1042.3 1608.6,1042.2 1589.7,1042.0 1571.0,1041.9 1552.4,1041.7 1533.7,1041.5 1514.8,1041.3 1495.5,1041.1 1475.9,1040.9 1456.0,1040.7 1436.0,1040.5 1415.8,1040.2 1395.6,1040.0 1375.5,1039.7 1355.4,1039.4 1335.5,1039.1 1315.2,1038.7 1294.3,1038.3 1273.2,1037.9 1252.2,1037.5 1231.8,1037.0 1212.5,1036.6 1194.6,1036.2 1178.5,1035.8 1164.5,1035.5 1152.3,1035.1 1141.5,1034.8 1131.7,1034.5 1122.6,1034.3 1113.8,1034.0 1104.9,1033.6 1095.5,1033.3 1085.8,1032.9 1076.3,1032.5 1066.9,1032.2 1057.7,1031.7 1048.6,1031.3 1039.8,1030.9 1031.3,1030.5 1023.1,1030.1 1015.2,1029.7 1007.6,1029.3 1000.4,1028.9 993.3,1028.5 986.4,1028.1 979.7,1027.7 973.0,1027.3 966.4,1026.9 959.7,1026.4 952.9,1025.9 946.2,1025.4 939.6,1024.9 933.3,1024.4 927.4,1023.9 922.0,1023.5 917.2,1023.1 913.2,1022.8 910.1,1022.6 907.5,1022.4 905.3,1022.2 903.2,1022.0 901.1,1021.8 898.6,1021.6 895.5,1021.2 891.9,1020.7 888.0,1020.2 883.8,1019.6 879.5,1019.0 875.1,1018.3 870.8,1017.6 866.6,1017.0 862.7,1016.3 859.0,1015.7 855.4,1015.0 851.9,1014.4 848.5,1013.7 845.1,1013.0 841.7,1012.3 838.3,1011.5 834.9,1010.7 831.4,1009.8 827.8,1008.8 824.1,1007.8 820.5,1006.8 817.0,1005.7 813.5,1004.6 810.2,1003.4 807.0,1002.3 804.0,1001.2 801.2,1000.0 798.4,998.8 795.8,997.6 793.2,996.4 790.8,995.2 788.4,993.9 786.1,992.6 783.9,991.3 781.8,989.9 779.8,988.6 777.9,987.2 776.1,985.8 774.3,984.3 772.5,982.9 770.8,981.4 769.1,979.9 767.4,978.4 765.8,976.9 764.2,975.4 762.7,973.8 761.2,972.3 759.7,970.6 758.2,968.9 756.7,967.2 755.3,965.4 753.9,963.6 752.5,961.8 751.1,959.9 749.7,957.9 748.4,955.8 747.1,953.6 745.8,951.3 744.5,948.8 743.2,946.2 741.9,943.5 740.7,940.8 739.5,938.1 738.3,935.4 737.3,932.7 736.3,930.1 735.5,927.6 734.6,925.1 733.9,922.6 733.2,920.1 732.4,917.4 731.7,914.7 731.0,911.7 730.3,908.6 729.5,905.2 728.8,901.8 728.1,898.2 727.4,894.6 726.7,891.0 726.1,887.4 725.5,883.9 725.0,880.5 724.4,877.3 724.0,874.1 723.5,870.8 723.1,867.5 722.7,864.0 722.3,860.2 722.0,856.0 721.7,851.4 721.4,846.5 721.2,841.4 721.0,836.0 720.8,830.5 720.6,825.0 720.5,819.6 720.3,814.2 720.1,808.6 720.0,802.6 719.9,796.4 719.7,790.3 719.6,784.6 719.5,779.4 719.5,775.0 719.4,771.7"/>
<g font-family="'Liberation Serif',serif" font-size="46" fill="#000">
<text x="680" y="1072.8" text-anchor="end" textLength="24.0" lengthAdjust="spacingAndGlyphs">0</text>
<text x="680" y="994.0" text-anchor="end" textLength="72.0" lengthAdjust="spacingAndGlyphs">100</text>
<text x="680" y="915.1" text-anchor="end" textLength="72.0" lengthAdjust="spacingAndGlyphs">200</text>
<text x="680" y="836.3" text-anchor="end" textLength="72.0" lengthAdjust="spacingAndGlyphs">300</text>
<text x="680" y="757.5" text-anchor="end" textLength="72.0" lengthAdjust="spacingAndGlyphs">400</text>
<text x="680" y="678.6" text-anchor="end" textLength="72.0" lengthAdjust="spacingAndGlyphs">500</text>
<text x="680" y="599.8" text-anchor="end" textLength="72.0" lengthAdjust="spacingAndGlyphs">600</text>
<text x="680" y="520.9" text-anchor="end" textLength="72.0" lengthAdjust="spacingAndGlyphs">700</text>
<text x="680" y="442.1" text-anchor="end" textLength="72.0" lengthAdjust="spacingAndGlyphs">800</text>
<text x="716.5" y="1143" text-anchor="middle" textLength="25.0" lengthAdjust="spacingAndGlyphs">0</text>
<text x="872.4" y="1143" text-anchor="middle" textLength="74.0" lengthAdjust="spacingAndGlyphs">500</text>
<text x="1028.2" y="1143" text-anchor="middle" textLength="95.5" lengthAdjust="spacingAndGlyphs">1000</text>
<text x="1184.1" y="1143" text-anchor="middle" textLength="95.5" lengthAdjust="spacingAndGlyphs">1500</text>
<text x="1339.9" y="1143" text-anchor="middle" textLength="95.5" lengthAdjust="spacingAndGlyphs">2000</text>
<text x="1495.8" y="1143" text-anchor="middle" textLength="95.5" lengthAdjust="spacingAndGlyphs">2500</text>
<text x="1651.6" y="1143" text-anchor="middle" textLength="95.5" lengthAdjust="spacingAndGlyphs">3000</text>
<text x="1807.5" y="1143" text-anchor="middle" textLength="95.5" lengthAdjust="spacingAndGlyphs">3500</text>
<text x="1963.3" y="1143" text-anchor="middle" textLength="95.5" lengthAdjust="spacingAndGlyphs">4000</text>
<text x="2119.2" y="1143" text-anchor="middle" textLength="95.5" lengthAdjust="spacingAndGlyphs">4500</text>
</g>
<g font-family="'Liberation Serif',serif" font-size="46.5" font-weight="bold" fill="#000">
<text x="1419" y="1225" text-anchor="middle" textLength="364" lengthAdjust="spacingAndGlyphs">Масса состава, т</text>
<text transform="translate(498.8 740.5) rotate(-90)" text-anchor="middle" textLength="592" lengthAdjust="spacingAndGlyphs">Удельный расход топлива,</text>
<text transform="translate(571 738.5) rotate(-90)" text-anchor="middle" textLength="240" lengthAdjust="spacingAndGlyphs">кг/10<tspan font-size="30" dy="-23">4</tspan><tspan dy="23"> т·км</tspan></text>
</g>
</svg>
<div class="ln" style="left:325.2px;top:148.5px;word-spacing:2.661px;">зависимости удельного расхода топлива тепловозов М62 от массы состава</div>
<div class="ln" style="left:325.2px;top:220.5px;word-spacing:5.317px;">в рассматриваемый период времени по данным из маршрутов машиниста</div>
<div class="ln" style="left:325.2px;top:292.5px;">построена точечная диаграмма, представленная на рисунке 6.4.</div>
<div class="ln it" style="left:442.2px;top:1301.9px;word-spacing:15.851px;">Рисунок 6.4 – Диаграмма зависимости удельного расхода топлива</div>
<div class="ln it" style="left:325.2px;top:1373.8px;">тепловозов М62 от массы состава в рассматриваемый период времени</div>
<div class="ln" style="left:442.2px;top:1501.9px;word-spacing:20.672px;">Очевидно, что в подавляющем большинстве поездок наблюдается</div>
<div class="ln" style="left:325.2px;top:1573.8px;word-spacing:8.121px;">значительное недоиспользование мощности тепловозов М62, что ведёт к</div>
<div class="ln" style="left:325.2px;top:1645.7px;word-spacing:44.606px;">увеличению удельного расхода топлива. С учетом того, что за</div>
<div class="ln" style="left:325.2px;top:1717.7px;word-spacing:27.342px;">рассмотренный период времени совершено 21<span class="nb">&nbsp;</span>738 поездок (31<span class="nb">&nbsp;</span>% от</div>
<div class="ln" style="left:325.2px;top:1789.6px;word-spacing:7.603px;">общего числа) без состава, в ходе которых израсходовано 8,8<span class="nb">&nbsp;</span>% топлива,</div>
<div class="ln" style="left:325.2px;top:1861.6px;word-spacing:28.492px;">можно заключить, что с экономической точки зрения, списываемые</div>
<div class="ln" style="left:325.2px;top:1933.5px;">тепловозы серии М62 следует заменять менее мощными тепловозами.</div>
<div class="ln" style="left:442.2px;top:2005.4px;word-spacing:23.006px;">На рисунке 6.5 по данным из маршрутов машиниста приведены</div>
<div class="ln" style="left:325.2px;top:2077.4px;word-spacing:13.579px;">точечные диаграммы зависимости удельного расхода топлива на тягу в</div>
<div class="ln" style="left:325.2px;top:2149.3px;word-spacing:18.947px;">зависимости от массы состава для тепловозов ЧМЭ3 и М62. Там же</div>
<div class="ln" style="left:325.2px;top:2221.3px;word-spacing:11.918px;">проведены соответствующие линии тренда. Видно, что при одинаковых</div>
<div class="ln" style="left:325.2px;top:2293.2px;word-spacing:5.976px;">по массе составах менее мощные тепловозы ЧМЭ3 (980 кВт) выполняют</div>
<div class="ln" style="left:325.2px;top:2365.1px;">работу с существенно большей экономичностью.</div>
<div id="pn" style="left:2274.6px;top:3227.1px">20</div>
</div></body></html>
